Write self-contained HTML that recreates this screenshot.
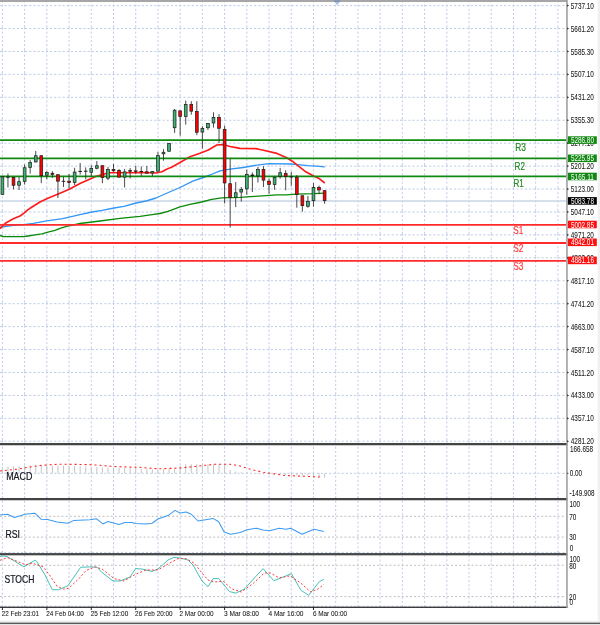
<!DOCTYPE html><html><head><meta charset="utf-8"><style>html,body{margin:0;padding:0;background:#fff;overflow:hidden}svg{display:block}</style></head><body>
<svg width="600" height="625" viewBox="0 0 600 625">
<rect x="0" y="0" width="600" height="625" fill="#fff"/>
<rect x="597.6" y="0" width="2.4" height="625" fill="#f0f0f0"/>
<rect x="0" y="620.7" width="600" height="1.9" fill="#eeeeee"/>
<rect x="0" y="624" width="600" height="1" fill="#e4e4e4"/>
<rect x="0" y="622.6" width="600" height="1.4" fill="#5a5a5a"/>
<line x1="2.40" y1="0.450" x2="2.40" y2="4.600" stroke="#bdcbe7" stroke-width="1" stroke-dasharray="2 2.15"/>
<line x1="2.40" y1="4.600" x2="2.40" y2="27.530" stroke="#bdcbe7" stroke-width="1" stroke-dasharray="2 2.15"/>
<line x1="2.40" y1="27.530" x2="2.40" y2="50.460" stroke="#bdcbe7" stroke-width="1" stroke-dasharray="2 2.15"/>
<line x1="2.40" y1="50.460" x2="2.40" y2="73.390" stroke="#bdcbe7" stroke-width="1" stroke-dasharray="2 2.15"/>
<line x1="2.40" y1="73.390" x2="2.40" y2="96.320" stroke="#bdcbe7" stroke-width="1" stroke-dasharray="2 2.15"/>
<line x1="2.40" y1="96.320" x2="2.40" y2="119.250" stroke="#bdcbe7" stroke-width="1" stroke-dasharray="2 2.15"/>
<line x1="2.40" y1="119.250" x2="2.40" y2="142.180" stroke="#bdcbe7" stroke-width="1" stroke-dasharray="2 2.15"/>
<line x1="2.40" y1="142.180" x2="2.40" y2="165.110" stroke="#bdcbe7" stroke-width="1" stroke-dasharray="2 2.15"/>
<line x1="2.40" y1="165.110" x2="2.40" y2="188.040" stroke="#bdcbe7" stroke-width="1" stroke-dasharray="2 2.15"/>
<line x1="2.40" y1="188.040" x2="2.40" y2="210.970" stroke="#bdcbe7" stroke-width="1" stroke-dasharray="2 2.15"/>
<line x1="2.40" y1="210.970" x2="2.40" y2="233.900" stroke="#bdcbe7" stroke-width="1" stroke-dasharray="2 2.15"/>
<line x1="2.40" y1="233.900" x2="2.40" y2="256.830" stroke="#bdcbe7" stroke-width="1" stroke-dasharray="2 2.15"/>
<line x1="2.40" y1="256.830" x2="2.40" y2="279.760" stroke="#bdcbe7" stroke-width="1" stroke-dasharray="2 2.15"/>
<line x1="2.40" y1="279.760" x2="2.40" y2="302.690" stroke="#bdcbe7" stroke-width="1" stroke-dasharray="2 2.15"/>
<line x1="2.40" y1="302.690" x2="2.40" y2="325.620" stroke="#bdcbe7" stroke-width="1" stroke-dasharray="2 2.15"/>
<line x1="2.40" y1="325.620" x2="2.40" y2="348.550" stroke="#bdcbe7" stroke-width="1" stroke-dasharray="2 2.15"/>
<line x1="2.40" y1="348.550" x2="2.40" y2="371.480" stroke="#bdcbe7" stroke-width="1" stroke-dasharray="2 2.15"/>
<line x1="2.40" y1="371.480" x2="2.40" y2="394.410" stroke="#bdcbe7" stroke-width="1" stroke-dasharray="2 2.15"/>
<line x1="2.40" y1="394.410" x2="2.40" y2="417.340" stroke="#bdcbe7" stroke-width="1" stroke-dasharray="2 2.15"/>
<line x1="2.40" y1="417.340" x2="2.40" y2="440.270" stroke="#bdcbe7" stroke-width="1" stroke-dasharray="2 2.15"/>
<line x1="2.40" y1="440.270" x2="2.40" y2="443.000" stroke="#bdcbe7" stroke-width="1" stroke-dasharray="2 2.15"/>
<line x1="2.40" y1="442.550" x2="2.40" y2="498" stroke="#bdcbe7" stroke-width="1" stroke-dasharray="2 2.15"/>
<line x1="2.40" y1="496.600" x2="2.40" y2="553" stroke="#bdcbe7" stroke-width="1" stroke-dasharray="2 2.15"/>
<line x1="2.40" y1="551.050" x2="2.40" y2="607" stroke="#bdcbe7" stroke-width="1" stroke-dasharray="2 2.15"/>
<line x1="24.62" y1="0.450" x2="24.62" y2="4.600" stroke="#bdcbe7" stroke-width="1" stroke-dasharray="2 2.15"/>
<line x1="24.62" y1="4.600" x2="24.62" y2="27.530" stroke="#bdcbe7" stroke-width="1" stroke-dasharray="2 2.15"/>
<line x1="24.62" y1="27.530" x2="24.62" y2="50.460" stroke="#bdcbe7" stroke-width="1" stroke-dasharray="2 2.15"/>
<line x1="24.62" y1="50.460" x2="24.62" y2="73.390" stroke="#bdcbe7" stroke-width="1" stroke-dasharray="2 2.15"/>
<line x1="24.62" y1="73.390" x2="24.62" y2="96.320" stroke="#bdcbe7" stroke-width="1" stroke-dasharray="2 2.15"/>
<line x1="24.62" y1="96.320" x2="24.62" y2="119.250" stroke="#bdcbe7" stroke-width="1" stroke-dasharray="2 2.15"/>
<line x1="24.62" y1="119.250" x2="24.62" y2="142.180" stroke="#bdcbe7" stroke-width="1" stroke-dasharray="2 2.15"/>
<line x1="24.62" y1="142.180" x2="24.62" y2="165.110" stroke="#bdcbe7" stroke-width="1" stroke-dasharray="2 2.15"/>
<line x1="24.62" y1="165.110" x2="24.62" y2="188.040" stroke="#bdcbe7" stroke-width="1" stroke-dasharray="2 2.15"/>
<line x1="24.62" y1="188.040" x2="24.62" y2="210.970" stroke="#bdcbe7" stroke-width="1" stroke-dasharray="2 2.15"/>
<line x1="24.62" y1="210.970" x2="24.62" y2="233.900" stroke="#bdcbe7" stroke-width="1" stroke-dasharray="2 2.15"/>
<line x1="24.62" y1="233.900" x2="24.62" y2="256.830" stroke="#bdcbe7" stroke-width="1" stroke-dasharray="2 2.15"/>
<line x1="24.62" y1="256.830" x2="24.62" y2="279.760" stroke="#bdcbe7" stroke-width="1" stroke-dasharray="2 2.15"/>
<line x1="24.62" y1="279.760" x2="24.62" y2="302.690" stroke="#bdcbe7" stroke-width="1" stroke-dasharray="2 2.15"/>
<line x1="24.62" y1="302.690" x2="24.62" y2="325.620" stroke="#bdcbe7" stroke-width="1" stroke-dasharray="2 2.15"/>
<line x1="24.62" y1="325.620" x2="24.62" y2="348.550" stroke="#bdcbe7" stroke-width="1" stroke-dasharray="2 2.15"/>
<line x1="24.62" y1="348.550" x2="24.62" y2="371.480" stroke="#bdcbe7" stroke-width="1" stroke-dasharray="2 2.15"/>
<line x1="24.62" y1="371.480" x2="24.62" y2="394.410" stroke="#bdcbe7" stroke-width="1" stroke-dasharray="2 2.15"/>
<line x1="24.62" y1="394.410" x2="24.62" y2="417.340" stroke="#bdcbe7" stroke-width="1" stroke-dasharray="2 2.15"/>
<line x1="24.62" y1="417.340" x2="24.62" y2="440.270" stroke="#bdcbe7" stroke-width="1" stroke-dasharray="2 2.15"/>
<line x1="24.62" y1="440.270" x2="24.62" y2="443.000" stroke="#bdcbe7" stroke-width="1" stroke-dasharray="2 2.15"/>
<line x1="24.62" y1="442.550" x2="24.62" y2="498" stroke="#bdcbe7" stroke-width="1" stroke-dasharray="2 2.15"/>
<line x1="24.62" y1="496.600" x2="24.62" y2="553" stroke="#bdcbe7" stroke-width="1" stroke-dasharray="2 2.15"/>
<line x1="24.62" y1="551.050" x2="24.62" y2="607" stroke="#bdcbe7" stroke-width="1" stroke-dasharray="2 2.15"/>
<line x1="46.84" y1="0.450" x2="46.84" y2="4.600" stroke="#bdcbe7" stroke-width="1" stroke-dasharray="2 2.15"/>
<line x1="46.84" y1="4.600" x2="46.84" y2="27.530" stroke="#bdcbe7" stroke-width="1" stroke-dasharray="2 2.15"/>
<line x1="46.84" y1="27.530" x2="46.84" y2="50.460" stroke="#bdcbe7" stroke-width="1" stroke-dasharray="2 2.15"/>
<line x1="46.84" y1="50.460" x2="46.84" y2="73.390" stroke="#bdcbe7" stroke-width="1" stroke-dasharray="2 2.15"/>
<line x1="46.84" y1="73.390" x2="46.84" y2="96.320" stroke="#bdcbe7" stroke-width="1" stroke-dasharray="2 2.15"/>
<line x1="46.84" y1="96.320" x2="46.84" y2="119.250" stroke="#bdcbe7" stroke-width="1" stroke-dasharray="2 2.15"/>
<line x1="46.84" y1="119.250" x2="46.84" y2="142.180" stroke="#bdcbe7" stroke-width="1" stroke-dasharray="2 2.15"/>
<line x1="46.84" y1="142.180" x2="46.84" y2="165.110" stroke="#bdcbe7" stroke-width="1" stroke-dasharray="2 2.15"/>
<line x1="46.84" y1="165.110" x2="46.84" y2="188.040" stroke="#bdcbe7" stroke-width="1" stroke-dasharray="2 2.15"/>
<line x1="46.84" y1="188.040" x2="46.84" y2="210.970" stroke="#bdcbe7" stroke-width="1" stroke-dasharray="2 2.15"/>
<line x1="46.84" y1="210.970" x2="46.84" y2="233.900" stroke="#bdcbe7" stroke-width="1" stroke-dasharray="2 2.15"/>
<line x1="46.84" y1="233.900" x2="46.84" y2="256.830" stroke="#bdcbe7" stroke-width="1" stroke-dasharray="2 2.15"/>
<line x1="46.84" y1="256.830" x2="46.84" y2="279.760" stroke="#bdcbe7" stroke-width="1" stroke-dasharray="2 2.15"/>
<line x1="46.84" y1="279.760" x2="46.84" y2="302.690" stroke="#bdcbe7" stroke-width="1" stroke-dasharray="2 2.15"/>
<line x1="46.84" y1="302.690" x2="46.84" y2="325.620" stroke="#bdcbe7" stroke-width="1" stroke-dasharray="2 2.15"/>
<line x1="46.84" y1="325.620" x2="46.84" y2="348.550" stroke="#bdcbe7" stroke-width="1" stroke-dasharray="2 2.15"/>
<line x1="46.84" y1="348.550" x2="46.84" y2="371.480" stroke="#bdcbe7" stroke-width="1" stroke-dasharray="2 2.15"/>
<line x1="46.84" y1="371.480" x2="46.84" y2="394.410" stroke="#bdcbe7" stroke-width="1" stroke-dasharray="2 2.15"/>
<line x1="46.84" y1="394.410" x2="46.84" y2="417.340" stroke="#bdcbe7" stroke-width="1" stroke-dasharray="2 2.15"/>
<line x1="46.84" y1="417.340" x2="46.84" y2="440.270" stroke="#bdcbe7" stroke-width="1" stroke-dasharray="2 2.15"/>
<line x1="46.84" y1="440.270" x2="46.84" y2="443.000" stroke="#bdcbe7" stroke-width="1" stroke-dasharray="2 2.15"/>
<line x1="46.84" y1="442.550" x2="46.84" y2="498" stroke="#bdcbe7" stroke-width="1" stroke-dasharray="2 2.15"/>
<line x1="46.84" y1="496.600" x2="46.84" y2="553" stroke="#bdcbe7" stroke-width="1" stroke-dasharray="2 2.15"/>
<line x1="46.84" y1="551.050" x2="46.84" y2="607" stroke="#bdcbe7" stroke-width="1" stroke-dasharray="2 2.15"/>
<line x1="69.06" y1="0.450" x2="69.06" y2="4.600" stroke="#bdcbe7" stroke-width="1" stroke-dasharray="2 2.15"/>
<line x1="69.06" y1="4.600" x2="69.06" y2="27.530" stroke="#bdcbe7" stroke-width="1" stroke-dasharray="2 2.15"/>
<line x1="69.06" y1="27.530" x2="69.06" y2="50.460" stroke="#bdcbe7" stroke-width="1" stroke-dasharray="2 2.15"/>
<line x1="69.06" y1="50.460" x2="69.06" y2="73.390" stroke="#bdcbe7" stroke-width="1" stroke-dasharray="2 2.15"/>
<line x1="69.06" y1="73.390" x2="69.06" y2="96.320" stroke="#bdcbe7" stroke-width="1" stroke-dasharray="2 2.15"/>
<line x1="69.06" y1="96.320" x2="69.06" y2="119.250" stroke="#bdcbe7" stroke-width="1" stroke-dasharray="2 2.15"/>
<line x1="69.06" y1="119.250" x2="69.06" y2="142.180" stroke="#bdcbe7" stroke-width="1" stroke-dasharray="2 2.15"/>
<line x1="69.06" y1="142.180" x2="69.06" y2="165.110" stroke="#bdcbe7" stroke-width="1" stroke-dasharray="2 2.15"/>
<line x1="69.06" y1="165.110" x2="69.06" y2="188.040" stroke="#bdcbe7" stroke-width="1" stroke-dasharray="2 2.15"/>
<line x1="69.06" y1="188.040" x2="69.06" y2="210.970" stroke="#bdcbe7" stroke-width="1" stroke-dasharray="2 2.15"/>
<line x1="69.06" y1="210.970" x2="69.06" y2="233.900" stroke="#bdcbe7" stroke-width="1" stroke-dasharray="2 2.15"/>
<line x1="69.06" y1="233.900" x2="69.06" y2="256.830" stroke="#bdcbe7" stroke-width="1" stroke-dasharray="2 2.15"/>
<line x1="69.06" y1="256.830" x2="69.06" y2="279.760" stroke="#bdcbe7" stroke-width="1" stroke-dasharray="2 2.15"/>
<line x1="69.06" y1="279.760" x2="69.06" y2="302.690" stroke="#bdcbe7" stroke-width="1" stroke-dasharray="2 2.15"/>
<line x1="69.06" y1="302.690" x2="69.06" y2="325.620" stroke="#bdcbe7" stroke-width="1" stroke-dasharray="2 2.15"/>
<line x1="69.06" y1="325.620" x2="69.06" y2="348.550" stroke="#bdcbe7" stroke-width="1" stroke-dasharray="2 2.15"/>
<line x1="69.06" y1="348.550" x2="69.06" y2="371.480" stroke="#bdcbe7" stroke-width="1" stroke-dasharray="2 2.15"/>
<line x1="69.06" y1="371.480" x2="69.06" y2="394.410" stroke="#bdcbe7" stroke-width="1" stroke-dasharray="2 2.15"/>
<line x1="69.06" y1="394.410" x2="69.06" y2="417.340" stroke="#bdcbe7" stroke-width="1" stroke-dasharray="2 2.15"/>
<line x1="69.06" y1="417.340" x2="69.06" y2="440.270" stroke="#bdcbe7" stroke-width="1" stroke-dasharray="2 2.15"/>
<line x1="69.06" y1="440.270" x2="69.06" y2="443.000" stroke="#bdcbe7" stroke-width="1" stroke-dasharray="2 2.15"/>
<line x1="69.06" y1="442.550" x2="69.06" y2="498" stroke="#bdcbe7" stroke-width="1" stroke-dasharray="2 2.15"/>
<line x1="69.06" y1="496.600" x2="69.06" y2="553" stroke="#bdcbe7" stroke-width="1" stroke-dasharray="2 2.15"/>
<line x1="69.06" y1="551.050" x2="69.06" y2="607" stroke="#bdcbe7" stroke-width="1" stroke-dasharray="2 2.15"/>
<line x1="91.28" y1="0.450" x2="91.28" y2="4.600" stroke="#bdcbe7" stroke-width="1" stroke-dasharray="2 2.15"/>
<line x1="91.28" y1="4.600" x2="91.28" y2="27.530" stroke="#bdcbe7" stroke-width="1" stroke-dasharray="2 2.15"/>
<line x1="91.28" y1="27.530" x2="91.28" y2="50.460" stroke="#bdcbe7" stroke-width="1" stroke-dasharray="2 2.15"/>
<line x1="91.28" y1="50.460" x2="91.28" y2="73.390" stroke="#bdcbe7" stroke-width="1" stroke-dasharray="2 2.15"/>
<line x1="91.28" y1="73.390" x2="91.28" y2="96.320" stroke="#bdcbe7" stroke-width="1" stroke-dasharray="2 2.15"/>
<line x1="91.28" y1="96.320" x2="91.28" y2="119.250" stroke="#bdcbe7" stroke-width="1" stroke-dasharray="2 2.15"/>
<line x1="91.28" y1="119.250" x2="91.28" y2="142.180" stroke="#bdcbe7" stroke-width="1" stroke-dasharray="2 2.15"/>
<line x1="91.28" y1="142.180" x2="91.28" y2="165.110" stroke="#bdcbe7" stroke-width="1" stroke-dasharray="2 2.15"/>
<line x1="91.28" y1="165.110" x2="91.28" y2="188.040" stroke="#bdcbe7" stroke-width="1" stroke-dasharray="2 2.15"/>
<line x1="91.28" y1="188.040" x2="91.28" y2="210.970" stroke="#bdcbe7" stroke-width="1" stroke-dasharray="2 2.15"/>
<line x1="91.28" y1="210.970" x2="91.28" y2="233.900" stroke="#bdcbe7" stroke-width="1" stroke-dasharray="2 2.15"/>
<line x1="91.28" y1="233.900" x2="91.28" y2="256.830" stroke="#bdcbe7" stroke-width="1" stroke-dasharray="2 2.15"/>
<line x1="91.28" y1="256.830" x2="91.28" y2="279.760" stroke="#bdcbe7" stroke-width="1" stroke-dasharray="2 2.15"/>
<line x1="91.28" y1="279.760" x2="91.28" y2="302.690" stroke="#bdcbe7" stroke-width="1" stroke-dasharray="2 2.15"/>
<line x1="91.28" y1="302.690" x2="91.28" y2="325.620" stroke="#bdcbe7" stroke-width="1" stroke-dasharray="2 2.15"/>
<line x1="91.28" y1="325.620" x2="91.28" y2="348.550" stroke="#bdcbe7" stroke-width="1" stroke-dasharray="2 2.15"/>
<line x1="91.28" y1="348.550" x2="91.28" y2="371.480" stroke="#bdcbe7" stroke-width="1" stroke-dasharray="2 2.15"/>
<line x1="91.28" y1="371.480" x2="91.28" y2="394.410" stroke="#bdcbe7" stroke-width="1" stroke-dasharray="2 2.15"/>
<line x1="91.28" y1="394.410" x2="91.28" y2="417.340" stroke="#bdcbe7" stroke-width="1" stroke-dasharray="2 2.15"/>
<line x1="91.28" y1="417.340" x2="91.28" y2="440.270" stroke="#bdcbe7" stroke-width="1" stroke-dasharray="2 2.15"/>
<line x1="91.28" y1="440.270" x2="91.28" y2="443.000" stroke="#bdcbe7" stroke-width="1" stroke-dasharray="2 2.15"/>
<line x1="91.28" y1="442.550" x2="91.28" y2="498" stroke="#bdcbe7" stroke-width="1" stroke-dasharray="2 2.15"/>
<line x1="91.28" y1="496.600" x2="91.28" y2="553" stroke="#bdcbe7" stroke-width="1" stroke-dasharray="2 2.15"/>
<line x1="91.28" y1="551.050" x2="91.28" y2="607" stroke="#bdcbe7" stroke-width="1" stroke-dasharray="2 2.15"/>
<line x1="113.50" y1="0.450" x2="113.50" y2="4.600" stroke="#bdcbe7" stroke-width="1" stroke-dasharray="2 2.15"/>
<line x1="113.50" y1="4.600" x2="113.50" y2="27.530" stroke="#bdcbe7" stroke-width="1" stroke-dasharray="2 2.15"/>
<line x1="113.50" y1="27.530" x2="113.50" y2="50.460" stroke="#bdcbe7" stroke-width="1" stroke-dasharray="2 2.15"/>
<line x1="113.50" y1="50.460" x2="113.50" y2="73.390" stroke="#bdcbe7" stroke-width="1" stroke-dasharray="2 2.15"/>
<line x1="113.50" y1="73.390" x2="113.50" y2="96.320" stroke="#bdcbe7" stroke-width="1" stroke-dasharray="2 2.15"/>
<line x1="113.50" y1="96.320" x2="113.50" y2="119.250" stroke="#bdcbe7" stroke-width="1" stroke-dasharray="2 2.15"/>
<line x1="113.50" y1="119.250" x2="113.50" y2="142.180" stroke="#bdcbe7" stroke-width="1" stroke-dasharray="2 2.15"/>
<line x1="113.50" y1="142.180" x2="113.50" y2="165.110" stroke="#bdcbe7" stroke-width="1" stroke-dasharray="2 2.15"/>
<line x1="113.50" y1="165.110" x2="113.50" y2="188.040" stroke="#bdcbe7" stroke-width="1" stroke-dasharray="2 2.15"/>
<line x1="113.50" y1="188.040" x2="113.50" y2="210.970" stroke="#bdcbe7" stroke-width="1" stroke-dasharray="2 2.15"/>
<line x1="113.50" y1="210.970" x2="113.50" y2="233.900" stroke="#bdcbe7" stroke-width="1" stroke-dasharray="2 2.15"/>
<line x1="113.50" y1="233.900" x2="113.50" y2="256.830" stroke="#bdcbe7" stroke-width="1" stroke-dasharray="2 2.15"/>
<line x1="113.50" y1="256.830" x2="113.50" y2="279.760" stroke="#bdcbe7" stroke-width="1" stroke-dasharray="2 2.15"/>
<line x1="113.50" y1="279.760" x2="113.50" y2="302.690" stroke="#bdcbe7" stroke-width="1" stroke-dasharray="2 2.15"/>
<line x1="113.50" y1="302.690" x2="113.50" y2="325.620" stroke="#bdcbe7" stroke-width="1" stroke-dasharray="2 2.15"/>
<line x1="113.50" y1="325.620" x2="113.50" y2="348.550" stroke="#bdcbe7" stroke-width="1" stroke-dasharray="2 2.15"/>
<line x1="113.50" y1="348.550" x2="113.50" y2="371.480" stroke="#bdcbe7" stroke-width="1" stroke-dasharray="2 2.15"/>
<line x1="113.50" y1="371.480" x2="113.50" y2="394.410" stroke="#bdcbe7" stroke-width="1" stroke-dasharray="2 2.15"/>
<line x1="113.50" y1="394.410" x2="113.50" y2="417.340" stroke="#bdcbe7" stroke-width="1" stroke-dasharray="2 2.15"/>
<line x1="113.50" y1="417.340" x2="113.50" y2="440.270" stroke="#bdcbe7" stroke-width="1" stroke-dasharray="2 2.15"/>
<line x1="113.50" y1="440.270" x2="113.50" y2="443.000" stroke="#bdcbe7" stroke-width="1" stroke-dasharray="2 2.15"/>
<line x1="113.50" y1="442.550" x2="113.50" y2="498" stroke="#bdcbe7" stroke-width="1" stroke-dasharray="2 2.15"/>
<line x1="113.50" y1="496.600" x2="113.50" y2="553" stroke="#bdcbe7" stroke-width="1" stroke-dasharray="2 2.15"/>
<line x1="113.50" y1="551.050" x2="113.50" y2="607" stroke="#bdcbe7" stroke-width="1" stroke-dasharray="2 2.15"/>
<line x1="135.72" y1="0.450" x2="135.72" y2="4.600" stroke="#bdcbe7" stroke-width="1" stroke-dasharray="2 2.15"/>
<line x1="135.72" y1="4.600" x2="135.72" y2="27.530" stroke="#bdcbe7" stroke-width="1" stroke-dasharray="2 2.15"/>
<line x1="135.72" y1="27.530" x2="135.72" y2="50.460" stroke="#bdcbe7" stroke-width="1" stroke-dasharray="2 2.15"/>
<line x1="135.72" y1="50.460" x2="135.72" y2="73.390" stroke="#bdcbe7" stroke-width="1" stroke-dasharray="2 2.15"/>
<line x1="135.72" y1="73.390" x2="135.72" y2="96.320" stroke="#bdcbe7" stroke-width="1" stroke-dasharray="2 2.15"/>
<line x1="135.72" y1="96.320" x2="135.72" y2="119.250" stroke="#bdcbe7" stroke-width="1" stroke-dasharray="2 2.15"/>
<line x1="135.72" y1="119.250" x2="135.72" y2="142.180" stroke="#bdcbe7" stroke-width="1" stroke-dasharray="2 2.15"/>
<line x1="135.72" y1="142.180" x2="135.72" y2="165.110" stroke="#bdcbe7" stroke-width="1" stroke-dasharray="2 2.15"/>
<line x1="135.72" y1="165.110" x2="135.72" y2="188.040" stroke="#bdcbe7" stroke-width="1" stroke-dasharray="2 2.15"/>
<line x1="135.72" y1="188.040" x2="135.72" y2="210.970" stroke="#bdcbe7" stroke-width="1" stroke-dasharray="2 2.15"/>
<line x1="135.72" y1="210.970" x2="135.72" y2="233.900" stroke="#bdcbe7" stroke-width="1" stroke-dasharray="2 2.15"/>
<line x1="135.72" y1="233.900" x2="135.72" y2="256.830" stroke="#bdcbe7" stroke-width="1" stroke-dasharray="2 2.15"/>
<line x1="135.72" y1="256.830" x2="135.72" y2="279.760" stroke="#bdcbe7" stroke-width="1" stroke-dasharray="2 2.15"/>
<line x1="135.72" y1="279.760" x2="135.72" y2="302.690" stroke="#bdcbe7" stroke-width="1" stroke-dasharray="2 2.15"/>
<line x1="135.72" y1="302.690" x2="135.72" y2="325.620" stroke="#bdcbe7" stroke-width="1" stroke-dasharray="2 2.15"/>
<line x1="135.72" y1="325.620" x2="135.72" y2="348.550" stroke="#bdcbe7" stroke-width="1" stroke-dasharray="2 2.15"/>
<line x1="135.72" y1="348.550" x2="135.72" y2="371.480" stroke="#bdcbe7" stroke-width="1" stroke-dasharray="2 2.15"/>
<line x1="135.72" y1="371.480" x2="135.72" y2="394.410" stroke="#bdcbe7" stroke-width="1" stroke-dasharray="2 2.15"/>
<line x1="135.72" y1="394.410" x2="135.72" y2="417.340" stroke="#bdcbe7" stroke-width="1" stroke-dasharray="2 2.15"/>
<line x1="135.72" y1="417.340" x2="135.72" y2="440.270" stroke="#bdcbe7" stroke-width="1" stroke-dasharray="2 2.15"/>
<line x1="135.72" y1="440.270" x2="135.72" y2="443.000" stroke="#bdcbe7" stroke-width="1" stroke-dasharray="2 2.15"/>
<line x1="135.72" y1="442.550" x2="135.72" y2="498" stroke="#bdcbe7" stroke-width="1" stroke-dasharray="2 2.15"/>
<line x1="135.72" y1="496.600" x2="135.72" y2="553" stroke="#bdcbe7" stroke-width="1" stroke-dasharray="2 2.15"/>
<line x1="135.72" y1="551.050" x2="135.72" y2="607" stroke="#bdcbe7" stroke-width="1" stroke-dasharray="2 2.15"/>
<line x1="157.94" y1="0.450" x2="157.94" y2="4.600" stroke="#bdcbe7" stroke-width="1" stroke-dasharray="2 2.15"/>
<line x1="157.94" y1="4.600" x2="157.94" y2="27.530" stroke="#bdcbe7" stroke-width="1" stroke-dasharray="2 2.15"/>
<line x1="157.94" y1="27.530" x2="157.94" y2="50.460" stroke="#bdcbe7" stroke-width="1" stroke-dasharray="2 2.15"/>
<line x1="157.94" y1="50.460" x2="157.94" y2="73.390" stroke="#bdcbe7" stroke-width="1" stroke-dasharray="2 2.15"/>
<line x1="157.94" y1="73.390" x2="157.94" y2="96.320" stroke="#bdcbe7" stroke-width="1" stroke-dasharray="2 2.15"/>
<line x1="157.94" y1="96.320" x2="157.94" y2="119.250" stroke="#bdcbe7" stroke-width="1" stroke-dasharray="2 2.15"/>
<line x1="157.94" y1="119.250" x2="157.94" y2="142.180" stroke="#bdcbe7" stroke-width="1" stroke-dasharray="2 2.15"/>
<line x1="157.94" y1="142.180" x2="157.94" y2="165.110" stroke="#bdcbe7" stroke-width="1" stroke-dasharray="2 2.15"/>
<line x1="157.94" y1="165.110" x2="157.94" y2="188.040" stroke="#bdcbe7" stroke-width="1" stroke-dasharray="2 2.15"/>
<line x1="157.94" y1="188.040" x2="157.94" y2="210.970" stroke="#bdcbe7" stroke-width="1" stroke-dasharray="2 2.15"/>
<line x1="157.94" y1="210.970" x2="157.94" y2="233.900" stroke="#bdcbe7" stroke-width="1" stroke-dasharray="2 2.15"/>
<line x1="157.94" y1="233.900" x2="157.94" y2="256.830" stroke="#bdcbe7" stroke-width="1" stroke-dasharray="2 2.15"/>
<line x1="157.94" y1="256.830" x2="157.94" y2="279.760" stroke="#bdcbe7" stroke-width="1" stroke-dasharray="2 2.15"/>
<line x1="157.94" y1="279.760" x2="157.94" y2="302.690" stroke="#bdcbe7" stroke-width="1" stroke-dasharray="2 2.15"/>
<line x1="157.94" y1="302.690" x2="157.94" y2="325.620" stroke="#bdcbe7" stroke-width="1" stroke-dasharray="2 2.15"/>
<line x1="157.94" y1="325.620" x2="157.94" y2="348.550" stroke="#bdcbe7" stroke-width="1" stroke-dasharray="2 2.15"/>
<line x1="157.94" y1="348.550" x2="157.94" y2="371.480" stroke="#bdcbe7" stroke-width="1" stroke-dasharray="2 2.15"/>
<line x1="157.94" y1="371.480" x2="157.94" y2="394.410" stroke="#bdcbe7" stroke-width="1" stroke-dasharray="2 2.15"/>
<line x1="157.94" y1="394.410" x2="157.94" y2="417.340" stroke="#bdcbe7" stroke-width="1" stroke-dasharray="2 2.15"/>
<line x1="157.94" y1="417.340" x2="157.94" y2="440.270" stroke="#bdcbe7" stroke-width="1" stroke-dasharray="2 2.15"/>
<line x1="157.94" y1="440.270" x2="157.94" y2="443.000" stroke="#bdcbe7" stroke-width="1" stroke-dasharray="2 2.15"/>
<line x1="157.94" y1="442.550" x2="157.94" y2="498" stroke="#bdcbe7" stroke-width="1" stroke-dasharray="2 2.15"/>
<line x1="157.94" y1="496.600" x2="157.94" y2="553" stroke="#bdcbe7" stroke-width="1" stroke-dasharray="2 2.15"/>
<line x1="157.94" y1="551.050" x2="157.94" y2="607" stroke="#bdcbe7" stroke-width="1" stroke-dasharray="2 2.15"/>
<line x1="180.16" y1="0.450" x2="180.16" y2="4.600" stroke="#bdcbe7" stroke-width="1" stroke-dasharray="2 2.15"/>
<line x1="180.16" y1="4.600" x2="180.16" y2="27.530" stroke="#bdcbe7" stroke-width="1" stroke-dasharray="2 2.15"/>
<line x1="180.16" y1="27.530" x2="180.16" y2="50.460" stroke="#bdcbe7" stroke-width="1" stroke-dasharray="2 2.15"/>
<line x1="180.16" y1="50.460" x2="180.16" y2="73.390" stroke="#bdcbe7" stroke-width="1" stroke-dasharray="2 2.15"/>
<line x1="180.16" y1="73.390" x2="180.16" y2="96.320" stroke="#bdcbe7" stroke-width="1" stroke-dasharray="2 2.15"/>
<line x1="180.16" y1="96.320" x2="180.16" y2="119.250" stroke="#bdcbe7" stroke-width="1" stroke-dasharray="2 2.15"/>
<line x1="180.16" y1="119.250" x2="180.16" y2="142.180" stroke="#bdcbe7" stroke-width="1" stroke-dasharray="2 2.15"/>
<line x1="180.16" y1="142.180" x2="180.16" y2="165.110" stroke="#bdcbe7" stroke-width="1" stroke-dasharray="2 2.15"/>
<line x1="180.16" y1="165.110" x2="180.16" y2="188.040" stroke="#bdcbe7" stroke-width="1" stroke-dasharray="2 2.15"/>
<line x1="180.16" y1="188.040" x2="180.16" y2="210.970" stroke="#bdcbe7" stroke-width="1" stroke-dasharray="2 2.15"/>
<line x1="180.16" y1="210.970" x2="180.16" y2="233.900" stroke="#bdcbe7" stroke-width="1" stroke-dasharray="2 2.15"/>
<line x1="180.16" y1="233.900" x2="180.16" y2="256.830" stroke="#bdcbe7" stroke-width="1" stroke-dasharray="2 2.15"/>
<line x1="180.16" y1="256.830" x2="180.16" y2="279.760" stroke="#bdcbe7" stroke-width="1" stroke-dasharray="2 2.15"/>
<line x1="180.16" y1="279.760" x2="180.16" y2="302.690" stroke="#bdcbe7" stroke-width="1" stroke-dasharray="2 2.15"/>
<line x1="180.16" y1="302.690" x2="180.16" y2="325.620" stroke="#bdcbe7" stroke-width="1" stroke-dasharray="2 2.15"/>
<line x1="180.16" y1="325.620" x2="180.16" y2="348.550" stroke="#bdcbe7" stroke-width="1" stroke-dasharray="2 2.15"/>
<line x1="180.16" y1="348.550" x2="180.16" y2="371.480" stroke="#bdcbe7" stroke-width="1" stroke-dasharray="2 2.15"/>
<line x1="180.16" y1="371.480" x2="180.16" y2="394.410" stroke="#bdcbe7" stroke-width="1" stroke-dasharray="2 2.15"/>
<line x1="180.16" y1="394.410" x2="180.16" y2="417.340" stroke="#bdcbe7" stroke-width="1" stroke-dasharray="2 2.15"/>
<line x1="180.16" y1="417.340" x2="180.16" y2="440.270" stroke="#bdcbe7" stroke-width="1" stroke-dasharray="2 2.15"/>
<line x1="180.16" y1="440.270" x2="180.16" y2="443.000" stroke="#bdcbe7" stroke-width="1" stroke-dasharray="2 2.15"/>
<line x1="180.16" y1="442.550" x2="180.16" y2="498" stroke="#bdcbe7" stroke-width="1" stroke-dasharray="2 2.15"/>
<line x1="180.16" y1="496.600" x2="180.16" y2="553" stroke="#bdcbe7" stroke-width="1" stroke-dasharray="2 2.15"/>
<line x1="180.16" y1="551.050" x2="180.16" y2="607" stroke="#bdcbe7" stroke-width="1" stroke-dasharray="2 2.15"/>
<line x1="202.38" y1="0.450" x2="202.38" y2="4.600" stroke="#bdcbe7" stroke-width="1" stroke-dasharray="2 2.15"/>
<line x1="202.38" y1="4.600" x2="202.38" y2="27.530" stroke="#bdcbe7" stroke-width="1" stroke-dasharray="2 2.15"/>
<line x1="202.38" y1="27.530" x2="202.38" y2="50.460" stroke="#bdcbe7" stroke-width="1" stroke-dasharray="2 2.15"/>
<line x1="202.38" y1="50.460" x2="202.38" y2="73.390" stroke="#bdcbe7" stroke-width="1" stroke-dasharray="2 2.15"/>
<line x1="202.38" y1="73.390" x2="202.38" y2="96.320" stroke="#bdcbe7" stroke-width="1" stroke-dasharray="2 2.15"/>
<line x1="202.38" y1="96.320" x2="202.38" y2="119.250" stroke="#bdcbe7" stroke-width="1" stroke-dasharray="2 2.15"/>
<line x1="202.38" y1="119.250" x2="202.38" y2="142.180" stroke="#bdcbe7" stroke-width="1" stroke-dasharray="2 2.15"/>
<line x1="202.38" y1="142.180" x2="202.38" y2="165.110" stroke="#bdcbe7" stroke-width="1" stroke-dasharray="2 2.15"/>
<line x1="202.38" y1="165.110" x2="202.38" y2="188.040" stroke="#bdcbe7" stroke-width="1" stroke-dasharray="2 2.15"/>
<line x1="202.38" y1="188.040" x2="202.38" y2="210.970" stroke="#bdcbe7" stroke-width="1" stroke-dasharray="2 2.15"/>
<line x1="202.38" y1="210.970" x2="202.38" y2="233.900" stroke="#bdcbe7" stroke-width="1" stroke-dasharray="2 2.15"/>
<line x1="202.38" y1="233.900" x2="202.38" y2="256.830" stroke="#bdcbe7" stroke-width="1" stroke-dasharray="2 2.15"/>
<line x1="202.38" y1="256.830" x2="202.38" y2="279.760" stroke="#bdcbe7" stroke-width="1" stroke-dasharray="2 2.15"/>
<line x1="202.38" y1="279.760" x2="202.38" y2="302.690" stroke="#bdcbe7" stroke-width="1" stroke-dasharray="2 2.15"/>
<line x1="202.38" y1="302.690" x2="202.38" y2="325.620" stroke="#bdcbe7" stroke-width="1" stroke-dasharray="2 2.15"/>
<line x1="202.38" y1="325.620" x2="202.38" y2="348.550" stroke="#bdcbe7" stroke-width="1" stroke-dasharray="2 2.15"/>
<line x1="202.38" y1="348.550" x2="202.38" y2="371.480" stroke="#bdcbe7" stroke-width="1" stroke-dasharray="2 2.15"/>
<line x1="202.38" y1="371.480" x2="202.38" y2="394.410" stroke="#bdcbe7" stroke-width="1" stroke-dasharray="2 2.15"/>
<line x1="202.38" y1="394.410" x2="202.38" y2="417.340" stroke="#bdcbe7" stroke-width="1" stroke-dasharray="2 2.15"/>
<line x1="202.38" y1="417.340" x2="202.38" y2="440.270" stroke="#bdcbe7" stroke-width="1" stroke-dasharray="2 2.15"/>
<line x1="202.38" y1="440.270" x2="202.38" y2="443.000" stroke="#bdcbe7" stroke-width="1" stroke-dasharray="2 2.15"/>
<line x1="202.38" y1="442.550" x2="202.38" y2="498" stroke="#bdcbe7" stroke-width="1" stroke-dasharray="2 2.15"/>
<line x1="202.38" y1="496.600" x2="202.38" y2="553" stroke="#bdcbe7" stroke-width="1" stroke-dasharray="2 2.15"/>
<line x1="202.38" y1="551.050" x2="202.38" y2="607" stroke="#bdcbe7" stroke-width="1" stroke-dasharray="2 2.15"/>
<line x1="224.60" y1="0.450" x2="224.60" y2="4.600" stroke="#bdcbe7" stroke-width="1" stroke-dasharray="2 2.15"/>
<line x1="224.60" y1="4.600" x2="224.60" y2="27.530" stroke="#bdcbe7" stroke-width="1" stroke-dasharray="2 2.15"/>
<line x1="224.60" y1="27.530" x2="224.60" y2="50.460" stroke="#bdcbe7" stroke-width="1" stroke-dasharray="2 2.15"/>
<line x1="224.60" y1="50.460" x2="224.60" y2="73.390" stroke="#bdcbe7" stroke-width="1" stroke-dasharray="2 2.15"/>
<line x1="224.60" y1="73.390" x2="224.60" y2="96.320" stroke="#bdcbe7" stroke-width="1" stroke-dasharray="2 2.15"/>
<line x1="224.60" y1="96.320" x2="224.60" y2="119.250" stroke="#bdcbe7" stroke-width="1" stroke-dasharray="2 2.15"/>
<line x1="224.60" y1="119.250" x2="224.60" y2="142.180" stroke="#bdcbe7" stroke-width="1" stroke-dasharray="2 2.15"/>
<line x1="224.60" y1="142.180" x2="224.60" y2="165.110" stroke="#bdcbe7" stroke-width="1" stroke-dasharray="2 2.15"/>
<line x1="224.60" y1="165.110" x2="224.60" y2="188.040" stroke="#bdcbe7" stroke-width="1" stroke-dasharray="2 2.15"/>
<line x1="224.60" y1="188.040" x2="224.60" y2="210.970" stroke="#bdcbe7" stroke-width="1" stroke-dasharray="2 2.15"/>
<line x1="224.60" y1="210.970" x2="224.60" y2="233.900" stroke="#bdcbe7" stroke-width="1" stroke-dasharray="2 2.15"/>
<line x1="224.60" y1="233.900" x2="224.60" y2="256.830" stroke="#bdcbe7" stroke-width="1" stroke-dasharray="2 2.15"/>
<line x1="224.60" y1="256.830" x2="224.60" y2="279.760" stroke="#bdcbe7" stroke-width="1" stroke-dasharray="2 2.15"/>
<line x1="224.60" y1="279.760" x2="224.60" y2="302.690" stroke="#bdcbe7" stroke-width="1" stroke-dasharray="2 2.15"/>
<line x1="224.60" y1="302.690" x2="224.60" y2="325.620" stroke="#bdcbe7" stroke-width="1" stroke-dasharray="2 2.15"/>
<line x1="224.60" y1="325.620" x2="224.60" y2="348.550" stroke="#bdcbe7" stroke-width="1" stroke-dasharray="2 2.15"/>
<line x1="224.60" y1="348.550" x2="224.60" y2="371.480" stroke="#bdcbe7" stroke-width="1" stroke-dasharray="2 2.15"/>
<line x1="224.60" y1="371.480" x2="224.60" y2="394.410" stroke="#bdcbe7" stroke-width="1" stroke-dasharray="2 2.15"/>
<line x1="224.60" y1="394.410" x2="224.60" y2="417.340" stroke="#bdcbe7" stroke-width="1" stroke-dasharray="2 2.15"/>
<line x1="224.60" y1="417.340" x2="224.60" y2="440.270" stroke="#bdcbe7" stroke-width="1" stroke-dasharray="2 2.15"/>
<line x1="224.60" y1="440.270" x2="224.60" y2="443.000" stroke="#bdcbe7" stroke-width="1" stroke-dasharray="2 2.15"/>
<line x1="224.60" y1="442.550" x2="224.60" y2="498" stroke="#bdcbe7" stroke-width="1" stroke-dasharray="2 2.15"/>
<line x1="224.60" y1="496.600" x2="224.60" y2="553" stroke="#bdcbe7" stroke-width="1" stroke-dasharray="2 2.15"/>
<line x1="224.60" y1="551.050" x2="224.60" y2="607" stroke="#bdcbe7" stroke-width="1" stroke-dasharray="2 2.15"/>
<line x1="246.82" y1="0.450" x2="246.82" y2="4.600" stroke="#bdcbe7" stroke-width="1" stroke-dasharray="2 2.15"/>
<line x1="246.82" y1="4.600" x2="246.82" y2="27.530" stroke="#bdcbe7" stroke-width="1" stroke-dasharray="2 2.15"/>
<line x1="246.82" y1="27.530" x2="246.82" y2="50.460" stroke="#bdcbe7" stroke-width="1" stroke-dasharray="2 2.15"/>
<line x1="246.82" y1="50.460" x2="246.82" y2="73.390" stroke="#bdcbe7" stroke-width="1" stroke-dasharray="2 2.15"/>
<line x1="246.82" y1="73.390" x2="246.82" y2="96.320" stroke="#bdcbe7" stroke-width="1" stroke-dasharray="2 2.15"/>
<line x1="246.82" y1="96.320" x2="246.82" y2="119.250" stroke="#bdcbe7" stroke-width="1" stroke-dasharray="2 2.15"/>
<line x1="246.82" y1="119.250" x2="246.82" y2="142.180" stroke="#bdcbe7" stroke-width="1" stroke-dasharray="2 2.15"/>
<line x1="246.82" y1="142.180" x2="246.82" y2="165.110" stroke="#bdcbe7" stroke-width="1" stroke-dasharray="2 2.15"/>
<line x1="246.82" y1="165.110" x2="246.82" y2="188.040" stroke="#bdcbe7" stroke-width="1" stroke-dasharray="2 2.15"/>
<line x1="246.82" y1="188.040" x2="246.82" y2="210.970" stroke="#bdcbe7" stroke-width="1" stroke-dasharray="2 2.15"/>
<line x1="246.82" y1="210.970" x2="246.82" y2="233.900" stroke="#bdcbe7" stroke-width="1" stroke-dasharray="2 2.15"/>
<line x1="246.82" y1="233.900" x2="246.82" y2="256.830" stroke="#bdcbe7" stroke-width="1" stroke-dasharray="2 2.15"/>
<line x1="246.82" y1="256.830" x2="246.82" y2="279.760" stroke="#bdcbe7" stroke-width="1" stroke-dasharray="2 2.15"/>
<line x1="246.82" y1="279.760" x2="246.82" y2="302.690" stroke="#bdcbe7" stroke-width="1" stroke-dasharray="2 2.15"/>
<line x1="246.82" y1="302.690" x2="246.82" y2="325.620" stroke="#bdcbe7" stroke-width="1" stroke-dasharray="2 2.15"/>
<line x1="246.82" y1="325.620" x2="246.82" y2="348.550" stroke="#bdcbe7" stroke-width="1" stroke-dasharray="2 2.15"/>
<line x1="246.82" y1="348.550" x2="246.82" y2="371.480" stroke="#bdcbe7" stroke-width="1" stroke-dasharray="2 2.15"/>
<line x1="246.82" y1="371.480" x2="246.82" y2="394.410" stroke="#bdcbe7" stroke-width="1" stroke-dasharray="2 2.15"/>
<line x1="246.82" y1="394.410" x2="246.82" y2="417.340" stroke="#bdcbe7" stroke-width="1" stroke-dasharray="2 2.15"/>
<line x1="246.82" y1="417.340" x2="246.82" y2="440.270" stroke="#bdcbe7" stroke-width="1" stroke-dasharray="2 2.15"/>
<line x1="246.82" y1="440.270" x2="246.82" y2="443.000" stroke="#bdcbe7" stroke-width="1" stroke-dasharray="2 2.15"/>
<line x1="246.82" y1="442.550" x2="246.82" y2="498" stroke="#bdcbe7" stroke-width="1" stroke-dasharray="2 2.15"/>
<line x1="246.82" y1="496.600" x2="246.82" y2="553" stroke="#bdcbe7" stroke-width="1" stroke-dasharray="2 2.15"/>
<line x1="246.82" y1="551.050" x2="246.82" y2="607" stroke="#bdcbe7" stroke-width="1" stroke-dasharray="2 2.15"/>
<line x1="269.04" y1="0.450" x2="269.04" y2="4.600" stroke="#bdcbe7" stroke-width="1" stroke-dasharray="2 2.15"/>
<line x1="269.04" y1="4.600" x2="269.04" y2="27.530" stroke="#bdcbe7" stroke-width="1" stroke-dasharray="2 2.15"/>
<line x1="269.04" y1="27.530" x2="269.04" y2="50.460" stroke="#bdcbe7" stroke-width="1" stroke-dasharray="2 2.15"/>
<line x1="269.04" y1="50.460" x2="269.04" y2="73.390" stroke="#bdcbe7" stroke-width="1" stroke-dasharray="2 2.15"/>
<line x1="269.04" y1="73.390" x2="269.04" y2="96.320" stroke="#bdcbe7" stroke-width="1" stroke-dasharray="2 2.15"/>
<line x1="269.04" y1="96.320" x2="269.04" y2="119.250" stroke="#bdcbe7" stroke-width="1" stroke-dasharray="2 2.15"/>
<line x1="269.04" y1="119.250" x2="269.04" y2="142.180" stroke="#bdcbe7" stroke-width="1" stroke-dasharray="2 2.15"/>
<line x1="269.04" y1="142.180" x2="269.04" y2="165.110" stroke="#bdcbe7" stroke-width="1" stroke-dasharray="2 2.15"/>
<line x1="269.04" y1="165.110" x2="269.04" y2="188.040" stroke="#bdcbe7" stroke-width="1" stroke-dasharray="2 2.15"/>
<line x1="269.04" y1="188.040" x2="269.04" y2="210.970" stroke="#bdcbe7" stroke-width="1" stroke-dasharray="2 2.15"/>
<line x1="269.04" y1="210.970" x2="269.04" y2="233.900" stroke="#bdcbe7" stroke-width="1" stroke-dasharray="2 2.15"/>
<line x1="269.04" y1="233.900" x2="269.04" y2="256.830" stroke="#bdcbe7" stroke-width="1" stroke-dasharray="2 2.15"/>
<line x1="269.04" y1="256.830" x2="269.04" y2="279.760" stroke="#bdcbe7" stroke-width="1" stroke-dasharray="2 2.15"/>
<line x1="269.04" y1="279.760" x2="269.04" y2="302.690" stroke="#bdcbe7" stroke-width="1" stroke-dasharray="2 2.15"/>
<line x1="269.04" y1="302.690" x2="269.04" y2="325.620" stroke="#bdcbe7" stroke-width="1" stroke-dasharray="2 2.15"/>
<line x1="269.04" y1="325.620" x2="269.04" y2="348.550" stroke="#bdcbe7" stroke-width="1" stroke-dasharray="2 2.15"/>
<line x1="269.04" y1="348.550" x2="269.04" y2="371.480" stroke="#bdcbe7" stroke-width="1" stroke-dasharray="2 2.15"/>
<line x1="269.04" y1="371.480" x2="269.04" y2="394.410" stroke="#bdcbe7" stroke-width="1" stroke-dasharray="2 2.15"/>
<line x1="269.04" y1="394.410" x2="269.04" y2="417.340" stroke="#bdcbe7" stroke-width="1" stroke-dasharray="2 2.15"/>
<line x1="269.04" y1="417.340" x2="269.04" y2="440.270" stroke="#bdcbe7" stroke-width="1" stroke-dasharray="2 2.15"/>
<line x1="269.04" y1="440.270" x2="269.04" y2="443.000" stroke="#bdcbe7" stroke-width="1" stroke-dasharray="2 2.15"/>
<line x1="269.04" y1="442.550" x2="269.04" y2="498" stroke="#bdcbe7" stroke-width="1" stroke-dasharray="2 2.15"/>
<line x1="269.04" y1="496.600" x2="269.04" y2="553" stroke="#bdcbe7" stroke-width="1" stroke-dasharray="2 2.15"/>
<line x1="269.04" y1="551.050" x2="269.04" y2="607" stroke="#bdcbe7" stroke-width="1" stroke-dasharray="2 2.15"/>
<line x1="291.26" y1="0.450" x2="291.26" y2="4.600" stroke="#bdcbe7" stroke-width="1" stroke-dasharray="2 2.15"/>
<line x1="291.26" y1="4.600" x2="291.26" y2="27.530" stroke="#bdcbe7" stroke-width="1" stroke-dasharray="2 2.15"/>
<line x1="291.26" y1="27.530" x2="291.26" y2="50.460" stroke="#bdcbe7" stroke-width="1" stroke-dasharray="2 2.15"/>
<line x1="291.26" y1="50.460" x2="291.26" y2="73.390" stroke="#bdcbe7" stroke-width="1" stroke-dasharray="2 2.15"/>
<line x1="291.26" y1="73.390" x2="291.26" y2="96.320" stroke="#bdcbe7" stroke-width="1" stroke-dasharray="2 2.15"/>
<line x1="291.26" y1="96.320" x2="291.26" y2="119.250" stroke="#bdcbe7" stroke-width="1" stroke-dasharray="2 2.15"/>
<line x1="291.26" y1="119.250" x2="291.26" y2="142.180" stroke="#bdcbe7" stroke-width="1" stroke-dasharray="2 2.15"/>
<line x1="291.26" y1="142.180" x2="291.26" y2="165.110" stroke="#bdcbe7" stroke-width="1" stroke-dasharray="2 2.15"/>
<line x1="291.26" y1="165.110" x2="291.26" y2="188.040" stroke="#bdcbe7" stroke-width="1" stroke-dasharray="2 2.15"/>
<line x1="291.26" y1="188.040" x2="291.26" y2="210.970" stroke="#bdcbe7" stroke-width="1" stroke-dasharray="2 2.15"/>
<line x1="291.26" y1="210.970" x2="291.26" y2="233.900" stroke="#bdcbe7" stroke-width="1" stroke-dasharray="2 2.15"/>
<line x1="291.26" y1="233.900" x2="291.26" y2="256.830" stroke="#bdcbe7" stroke-width="1" stroke-dasharray="2 2.15"/>
<line x1="291.26" y1="256.830" x2="291.26" y2="279.760" stroke="#bdcbe7" stroke-width="1" stroke-dasharray="2 2.15"/>
<line x1="291.26" y1="279.760" x2="291.26" y2="302.690" stroke="#bdcbe7" stroke-width="1" stroke-dasharray="2 2.15"/>
<line x1="291.26" y1="302.690" x2="291.26" y2="325.620" stroke="#bdcbe7" stroke-width="1" stroke-dasharray="2 2.15"/>
<line x1="291.26" y1="325.620" x2="291.26" y2="348.550" stroke="#bdcbe7" stroke-width="1" stroke-dasharray="2 2.15"/>
<line x1="291.26" y1="348.550" x2="291.26" y2="371.480" stroke="#bdcbe7" stroke-width="1" stroke-dasharray="2 2.15"/>
<line x1="291.26" y1="371.480" x2="291.26" y2="394.410" stroke="#bdcbe7" stroke-width="1" stroke-dasharray="2 2.15"/>
<line x1="291.26" y1="394.410" x2="291.26" y2="417.340" stroke="#bdcbe7" stroke-width="1" stroke-dasharray="2 2.15"/>
<line x1="291.26" y1="417.340" x2="291.26" y2="440.270" stroke="#bdcbe7" stroke-width="1" stroke-dasharray="2 2.15"/>
<line x1="291.26" y1="440.270" x2="291.26" y2="443.000" stroke="#bdcbe7" stroke-width="1" stroke-dasharray="2 2.15"/>
<line x1="291.26" y1="442.550" x2="291.26" y2="498" stroke="#bdcbe7" stroke-width="1" stroke-dasharray="2 2.15"/>
<line x1="291.26" y1="496.600" x2="291.26" y2="553" stroke="#bdcbe7" stroke-width="1" stroke-dasharray="2 2.15"/>
<line x1="291.26" y1="551.050" x2="291.26" y2="607" stroke="#bdcbe7" stroke-width="1" stroke-dasharray="2 2.15"/>
<line x1="313.48" y1="0.450" x2="313.48" y2="4.600" stroke="#bdcbe7" stroke-width="1" stroke-dasharray="2 2.15"/>
<line x1="313.48" y1="4.600" x2="313.48" y2="27.530" stroke="#bdcbe7" stroke-width="1" stroke-dasharray="2 2.15"/>
<line x1="313.48" y1="27.530" x2="313.48" y2="50.460" stroke="#bdcbe7" stroke-width="1" stroke-dasharray="2 2.15"/>
<line x1="313.48" y1="50.460" x2="313.48" y2="73.390" stroke="#bdcbe7" stroke-width="1" stroke-dasharray="2 2.15"/>
<line x1="313.48" y1="73.390" x2="313.48" y2="96.320" stroke="#bdcbe7" stroke-width="1" stroke-dasharray="2 2.15"/>
<line x1="313.48" y1="96.320" x2="313.48" y2="119.250" stroke="#bdcbe7" stroke-width="1" stroke-dasharray="2 2.15"/>
<line x1="313.48" y1="119.250" x2="313.48" y2="142.180" stroke="#bdcbe7" stroke-width="1" stroke-dasharray="2 2.15"/>
<line x1="313.48" y1="142.180" x2="313.48" y2="165.110" stroke="#bdcbe7" stroke-width="1" stroke-dasharray="2 2.15"/>
<line x1="313.48" y1="165.110" x2="313.48" y2="188.040" stroke="#bdcbe7" stroke-width="1" stroke-dasharray="2 2.15"/>
<line x1="313.48" y1="188.040" x2="313.48" y2="210.970" stroke="#bdcbe7" stroke-width="1" stroke-dasharray="2 2.15"/>
<line x1="313.48" y1="210.970" x2="313.48" y2="233.900" stroke="#bdcbe7" stroke-width="1" stroke-dasharray="2 2.15"/>
<line x1="313.48" y1="233.900" x2="313.48" y2="256.830" stroke="#bdcbe7" stroke-width="1" stroke-dasharray="2 2.15"/>
<line x1="313.48" y1="256.830" x2="313.48" y2="279.760" stroke="#bdcbe7" stroke-width="1" stroke-dasharray="2 2.15"/>
<line x1="313.48" y1="279.760" x2="313.48" y2="302.690" stroke="#bdcbe7" stroke-width="1" stroke-dasharray="2 2.15"/>
<line x1="313.48" y1="302.690" x2="313.48" y2="325.620" stroke="#bdcbe7" stroke-width="1" stroke-dasharray="2 2.15"/>
<line x1="313.48" y1="325.620" x2="313.48" y2="348.550" stroke="#bdcbe7" stroke-width="1" stroke-dasharray="2 2.15"/>
<line x1="313.48" y1="348.550" x2="313.48" y2="371.480" stroke="#bdcbe7" stroke-width="1" stroke-dasharray="2 2.15"/>
<line x1="313.48" y1="371.480" x2="313.48" y2="394.410" stroke="#bdcbe7" stroke-width="1" stroke-dasharray="2 2.15"/>
<line x1="313.48" y1="394.410" x2="313.48" y2="417.340" stroke="#bdcbe7" stroke-width="1" stroke-dasharray="2 2.15"/>
<line x1="313.48" y1="417.340" x2="313.48" y2="440.270" stroke="#bdcbe7" stroke-width="1" stroke-dasharray="2 2.15"/>
<line x1="313.48" y1="440.270" x2="313.48" y2="443.000" stroke="#bdcbe7" stroke-width="1" stroke-dasharray="2 2.15"/>
<line x1="313.48" y1="442.550" x2="313.48" y2="498" stroke="#bdcbe7" stroke-width="1" stroke-dasharray="2 2.15"/>
<line x1="313.48" y1="496.600" x2="313.48" y2="553" stroke="#bdcbe7" stroke-width="1" stroke-dasharray="2 2.15"/>
<line x1="313.48" y1="551.050" x2="313.48" y2="607" stroke="#bdcbe7" stroke-width="1" stroke-dasharray="2 2.15"/>
<line x1="335.70" y1="0.450" x2="335.70" y2="4.600" stroke="#bdcbe7" stroke-width="1" stroke-dasharray="2 2.15"/>
<line x1="335.70" y1="4.600" x2="335.70" y2="27.530" stroke="#bdcbe7" stroke-width="1" stroke-dasharray="2 2.15"/>
<line x1="335.70" y1="27.530" x2="335.70" y2="50.460" stroke="#bdcbe7" stroke-width="1" stroke-dasharray="2 2.15"/>
<line x1="335.70" y1="50.460" x2="335.70" y2="73.390" stroke="#bdcbe7" stroke-width="1" stroke-dasharray="2 2.15"/>
<line x1="335.70" y1="73.390" x2="335.70" y2="96.320" stroke="#bdcbe7" stroke-width="1" stroke-dasharray="2 2.15"/>
<line x1="335.70" y1="96.320" x2="335.70" y2="119.250" stroke="#bdcbe7" stroke-width="1" stroke-dasharray="2 2.15"/>
<line x1="335.70" y1="119.250" x2="335.70" y2="142.180" stroke="#bdcbe7" stroke-width="1" stroke-dasharray="2 2.15"/>
<line x1="335.70" y1="142.180" x2="335.70" y2="165.110" stroke="#bdcbe7" stroke-width="1" stroke-dasharray="2 2.15"/>
<line x1="335.70" y1="165.110" x2="335.70" y2="188.040" stroke="#bdcbe7" stroke-width="1" stroke-dasharray="2 2.15"/>
<line x1="335.70" y1="188.040" x2="335.70" y2="210.970" stroke="#bdcbe7" stroke-width="1" stroke-dasharray="2 2.15"/>
<line x1="335.70" y1="210.970" x2="335.70" y2="233.900" stroke="#bdcbe7" stroke-width="1" stroke-dasharray="2 2.15"/>
<line x1="335.70" y1="233.900" x2="335.70" y2="256.830" stroke="#bdcbe7" stroke-width="1" stroke-dasharray="2 2.15"/>
<line x1="335.70" y1="256.830" x2="335.70" y2="279.760" stroke="#bdcbe7" stroke-width="1" stroke-dasharray="2 2.15"/>
<line x1="335.70" y1="279.760" x2="335.70" y2="302.690" stroke="#bdcbe7" stroke-width="1" stroke-dasharray="2 2.15"/>
<line x1="335.70" y1="302.690" x2="335.70" y2="325.620" stroke="#bdcbe7" stroke-width="1" stroke-dasharray="2 2.15"/>
<line x1="335.70" y1="325.620" x2="335.70" y2="348.550" stroke="#bdcbe7" stroke-width="1" stroke-dasharray="2 2.15"/>
<line x1="335.70" y1="348.550" x2="335.70" y2="371.480" stroke="#bdcbe7" stroke-width="1" stroke-dasharray="2 2.15"/>
<line x1="335.70" y1="371.480" x2="335.70" y2="394.410" stroke="#bdcbe7" stroke-width="1" stroke-dasharray="2 2.15"/>
<line x1="335.70" y1="394.410" x2="335.70" y2="417.340" stroke="#bdcbe7" stroke-width="1" stroke-dasharray="2 2.15"/>
<line x1="335.70" y1="417.340" x2="335.70" y2="440.270" stroke="#bdcbe7" stroke-width="1" stroke-dasharray="2 2.15"/>
<line x1="335.70" y1="440.270" x2="335.70" y2="443.000" stroke="#bdcbe7" stroke-width="1" stroke-dasharray="2 2.15"/>
<line x1="335.70" y1="442.550" x2="335.70" y2="498" stroke="#bdcbe7" stroke-width="1" stroke-dasharray="2 2.15"/>
<line x1="335.70" y1="496.600" x2="335.70" y2="553" stroke="#bdcbe7" stroke-width="1" stroke-dasharray="2 2.15"/>
<line x1="335.70" y1="551.050" x2="335.70" y2="607" stroke="#bdcbe7" stroke-width="1" stroke-dasharray="2 2.15"/>
<line x1="357.92" y1="0.450" x2="357.92" y2="4.600" stroke="#bdcbe7" stroke-width="1" stroke-dasharray="2 2.15"/>
<line x1="357.92" y1="4.600" x2="357.92" y2="27.530" stroke="#bdcbe7" stroke-width="1" stroke-dasharray="2 2.15"/>
<line x1="357.92" y1="27.530" x2="357.92" y2="50.460" stroke="#bdcbe7" stroke-width="1" stroke-dasharray="2 2.15"/>
<line x1="357.92" y1="50.460" x2="357.92" y2="73.390" stroke="#bdcbe7" stroke-width="1" stroke-dasharray="2 2.15"/>
<line x1="357.92" y1="73.390" x2="357.92" y2="96.320" stroke="#bdcbe7" stroke-width="1" stroke-dasharray="2 2.15"/>
<line x1="357.92" y1="96.320" x2="357.92" y2="119.250" stroke="#bdcbe7" stroke-width="1" stroke-dasharray="2 2.15"/>
<line x1="357.92" y1="119.250" x2="357.92" y2="142.180" stroke="#bdcbe7" stroke-width="1" stroke-dasharray="2 2.15"/>
<line x1="357.92" y1="142.180" x2="357.92" y2="165.110" stroke="#bdcbe7" stroke-width="1" stroke-dasharray="2 2.15"/>
<line x1="357.92" y1="165.110" x2="357.92" y2="188.040" stroke="#bdcbe7" stroke-width="1" stroke-dasharray="2 2.15"/>
<line x1="357.92" y1="188.040" x2="357.92" y2="210.970" stroke="#bdcbe7" stroke-width="1" stroke-dasharray="2 2.15"/>
<line x1="357.92" y1="210.970" x2="357.92" y2="233.900" stroke="#bdcbe7" stroke-width="1" stroke-dasharray="2 2.15"/>
<line x1="357.92" y1="233.900" x2="357.92" y2="256.830" stroke="#bdcbe7" stroke-width="1" stroke-dasharray="2 2.15"/>
<line x1="357.92" y1="256.830" x2="357.92" y2="279.760" stroke="#bdcbe7" stroke-width="1" stroke-dasharray="2 2.15"/>
<line x1="357.92" y1="279.760" x2="357.92" y2="302.690" stroke="#bdcbe7" stroke-width="1" stroke-dasharray="2 2.15"/>
<line x1="357.92" y1="302.690" x2="357.92" y2="325.620" stroke="#bdcbe7" stroke-width="1" stroke-dasharray="2 2.15"/>
<line x1="357.92" y1="325.620" x2="357.92" y2="348.550" stroke="#bdcbe7" stroke-width="1" stroke-dasharray="2 2.15"/>
<line x1="357.92" y1="348.550" x2="357.92" y2="371.480" stroke="#bdcbe7" stroke-width="1" stroke-dasharray="2 2.15"/>
<line x1="357.92" y1="371.480" x2="357.92" y2="394.410" stroke="#bdcbe7" stroke-width="1" stroke-dasharray="2 2.15"/>
<line x1="357.92" y1="394.410" x2="357.92" y2="417.340" stroke="#bdcbe7" stroke-width="1" stroke-dasharray="2 2.15"/>
<line x1="357.92" y1="417.340" x2="357.92" y2="440.270" stroke="#bdcbe7" stroke-width="1" stroke-dasharray="2 2.15"/>
<line x1="357.92" y1="440.270" x2="357.92" y2="443.000" stroke="#bdcbe7" stroke-width="1" stroke-dasharray="2 2.15"/>
<line x1="357.92" y1="442.550" x2="357.92" y2="498" stroke="#bdcbe7" stroke-width="1" stroke-dasharray="2 2.15"/>
<line x1="357.92" y1="496.600" x2="357.92" y2="553" stroke="#bdcbe7" stroke-width="1" stroke-dasharray="2 2.15"/>
<line x1="357.92" y1="551.050" x2="357.92" y2="607" stroke="#bdcbe7" stroke-width="1" stroke-dasharray="2 2.15"/>
<line x1="380.14" y1="0.450" x2="380.14" y2="4.600" stroke="#bdcbe7" stroke-width="1" stroke-dasharray="2 2.15"/>
<line x1="380.14" y1="4.600" x2="380.14" y2="27.530" stroke="#bdcbe7" stroke-width="1" stroke-dasharray="2 2.15"/>
<line x1="380.14" y1="27.530" x2="380.14" y2="50.460" stroke="#bdcbe7" stroke-width="1" stroke-dasharray="2 2.15"/>
<line x1="380.14" y1="50.460" x2="380.14" y2="73.390" stroke="#bdcbe7" stroke-width="1" stroke-dasharray="2 2.15"/>
<line x1="380.14" y1="73.390" x2="380.14" y2="96.320" stroke="#bdcbe7" stroke-width="1" stroke-dasharray="2 2.15"/>
<line x1="380.14" y1="96.320" x2="380.14" y2="119.250" stroke="#bdcbe7" stroke-width="1" stroke-dasharray="2 2.15"/>
<line x1="380.14" y1="119.250" x2="380.14" y2="142.180" stroke="#bdcbe7" stroke-width="1" stroke-dasharray="2 2.15"/>
<line x1="380.14" y1="142.180" x2="380.14" y2="165.110" stroke="#bdcbe7" stroke-width="1" stroke-dasharray="2 2.15"/>
<line x1="380.14" y1="165.110" x2="380.14" y2="188.040" stroke="#bdcbe7" stroke-width="1" stroke-dasharray="2 2.15"/>
<line x1="380.14" y1="188.040" x2="380.14" y2="210.970" stroke="#bdcbe7" stroke-width="1" stroke-dasharray="2 2.15"/>
<line x1="380.14" y1="210.970" x2="380.14" y2="233.900" stroke="#bdcbe7" stroke-width="1" stroke-dasharray="2 2.15"/>
<line x1="380.14" y1="233.900" x2="380.14" y2="256.830" stroke="#bdcbe7" stroke-width="1" stroke-dasharray="2 2.15"/>
<line x1="380.14" y1="256.830" x2="380.14" y2="279.760" stroke="#bdcbe7" stroke-width="1" stroke-dasharray="2 2.15"/>
<line x1="380.14" y1="279.760" x2="380.14" y2="302.690" stroke="#bdcbe7" stroke-width="1" stroke-dasharray="2 2.15"/>
<line x1="380.14" y1="302.690" x2="380.14" y2="325.620" stroke="#bdcbe7" stroke-width="1" stroke-dasharray="2 2.15"/>
<line x1="380.14" y1="325.620" x2="380.14" y2="348.550" stroke="#bdcbe7" stroke-width="1" stroke-dasharray="2 2.15"/>
<line x1="380.14" y1="348.550" x2="380.14" y2="371.480" stroke="#bdcbe7" stroke-width="1" stroke-dasharray="2 2.15"/>
<line x1="380.14" y1="371.480" x2="380.14" y2="394.410" stroke="#bdcbe7" stroke-width="1" stroke-dasharray="2 2.15"/>
<line x1="380.14" y1="394.410" x2="380.14" y2="417.340" stroke="#bdcbe7" stroke-width="1" stroke-dasharray="2 2.15"/>
<line x1="380.14" y1="417.340" x2="380.14" y2="440.270" stroke="#bdcbe7" stroke-width="1" stroke-dasharray="2 2.15"/>
<line x1="380.14" y1="440.270" x2="380.14" y2="443.000" stroke="#bdcbe7" stroke-width="1" stroke-dasharray="2 2.15"/>
<line x1="380.14" y1="442.550" x2="380.14" y2="498" stroke="#bdcbe7" stroke-width="1" stroke-dasharray="2 2.15"/>
<line x1="380.14" y1="496.600" x2="380.14" y2="553" stroke="#bdcbe7" stroke-width="1" stroke-dasharray="2 2.15"/>
<line x1="380.14" y1="551.050" x2="380.14" y2="607" stroke="#bdcbe7" stroke-width="1" stroke-dasharray="2 2.15"/>
<line x1="402.36" y1="0.450" x2="402.36" y2="4.600" stroke="#bdcbe7" stroke-width="1" stroke-dasharray="2 2.15"/>
<line x1="402.36" y1="4.600" x2="402.36" y2="27.530" stroke="#bdcbe7" stroke-width="1" stroke-dasharray="2 2.15"/>
<line x1="402.36" y1="27.530" x2="402.36" y2="50.460" stroke="#bdcbe7" stroke-width="1" stroke-dasharray="2 2.15"/>
<line x1="402.36" y1="50.460" x2="402.36" y2="73.390" stroke="#bdcbe7" stroke-width="1" stroke-dasharray="2 2.15"/>
<line x1="402.36" y1="73.390" x2="402.36" y2="96.320" stroke="#bdcbe7" stroke-width="1" stroke-dasharray="2 2.15"/>
<line x1="402.36" y1="96.320" x2="402.36" y2="119.250" stroke="#bdcbe7" stroke-width="1" stroke-dasharray="2 2.15"/>
<line x1="402.36" y1="119.250" x2="402.36" y2="142.180" stroke="#bdcbe7" stroke-width="1" stroke-dasharray="2 2.15"/>
<line x1="402.36" y1="142.180" x2="402.36" y2="165.110" stroke="#bdcbe7" stroke-width="1" stroke-dasharray="2 2.15"/>
<line x1="402.36" y1="165.110" x2="402.36" y2="188.040" stroke="#bdcbe7" stroke-width="1" stroke-dasharray="2 2.15"/>
<line x1="402.36" y1="188.040" x2="402.36" y2="210.970" stroke="#bdcbe7" stroke-width="1" stroke-dasharray="2 2.15"/>
<line x1="402.36" y1="210.970" x2="402.36" y2="233.900" stroke="#bdcbe7" stroke-width="1" stroke-dasharray="2 2.15"/>
<line x1="402.36" y1="233.900" x2="402.36" y2="256.830" stroke="#bdcbe7" stroke-width="1" stroke-dasharray="2 2.15"/>
<line x1="402.36" y1="256.830" x2="402.36" y2="279.760" stroke="#bdcbe7" stroke-width="1" stroke-dasharray="2 2.15"/>
<line x1="402.36" y1="279.760" x2="402.36" y2="302.690" stroke="#bdcbe7" stroke-width="1" stroke-dasharray="2 2.15"/>
<line x1="402.36" y1="302.690" x2="402.36" y2="325.620" stroke="#bdcbe7" stroke-width="1" stroke-dasharray="2 2.15"/>
<line x1="402.36" y1="325.620" x2="402.36" y2="348.550" stroke="#bdcbe7" stroke-width="1" stroke-dasharray="2 2.15"/>
<line x1="402.36" y1="348.550" x2="402.36" y2="371.480" stroke="#bdcbe7" stroke-width="1" stroke-dasharray="2 2.15"/>
<line x1="402.36" y1="371.480" x2="402.36" y2="394.410" stroke="#bdcbe7" stroke-width="1" stroke-dasharray="2 2.15"/>
<line x1="402.36" y1="394.410" x2="402.36" y2="417.340" stroke="#bdcbe7" stroke-width="1" stroke-dasharray="2 2.15"/>
<line x1="402.36" y1="417.340" x2="402.36" y2="440.270" stroke="#bdcbe7" stroke-width="1" stroke-dasharray="2 2.15"/>
<line x1="402.36" y1="440.270" x2="402.36" y2="443.000" stroke="#bdcbe7" stroke-width="1" stroke-dasharray="2 2.15"/>
<line x1="402.36" y1="442.550" x2="402.36" y2="498" stroke="#bdcbe7" stroke-width="1" stroke-dasharray="2 2.15"/>
<line x1="402.36" y1="496.600" x2="402.36" y2="553" stroke="#bdcbe7" stroke-width="1" stroke-dasharray="2 2.15"/>
<line x1="402.36" y1="551.050" x2="402.36" y2="607" stroke="#bdcbe7" stroke-width="1" stroke-dasharray="2 2.15"/>
<line x1="424.58" y1="0.450" x2="424.58" y2="4.600" stroke="#bdcbe7" stroke-width="1" stroke-dasharray="2 2.15"/>
<line x1="424.58" y1="4.600" x2="424.58" y2="27.530" stroke="#bdcbe7" stroke-width="1" stroke-dasharray="2 2.15"/>
<line x1="424.58" y1="27.530" x2="424.58" y2="50.460" stroke="#bdcbe7" stroke-width="1" stroke-dasharray="2 2.15"/>
<line x1="424.58" y1="50.460" x2="424.58" y2="73.390" stroke="#bdcbe7" stroke-width="1" stroke-dasharray="2 2.15"/>
<line x1="424.58" y1="73.390" x2="424.58" y2="96.320" stroke="#bdcbe7" stroke-width="1" stroke-dasharray="2 2.15"/>
<line x1="424.58" y1="96.320" x2="424.58" y2="119.250" stroke="#bdcbe7" stroke-width="1" stroke-dasharray="2 2.15"/>
<line x1="424.58" y1="119.250" x2="424.58" y2="142.180" stroke="#bdcbe7" stroke-width="1" stroke-dasharray="2 2.15"/>
<line x1="424.58" y1="142.180" x2="424.58" y2="165.110" stroke="#bdcbe7" stroke-width="1" stroke-dasharray="2 2.15"/>
<line x1="424.58" y1="165.110" x2="424.58" y2="188.040" stroke="#bdcbe7" stroke-width="1" stroke-dasharray="2 2.15"/>
<line x1="424.58" y1="188.040" x2="424.58" y2="210.970" stroke="#bdcbe7" stroke-width="1" stroke-dasharray="2 2.15"/>
<line x1="424.58" y1="210.970" x2="424.58" y2="233.900" stroke="#bdcbe7" stroke-width="1" stroke-dasharray="2 2.15"/>
<line x1="424.58" y1="233.900" x2="424.58" y2="256.830" stroke="#bdcbe7" stroke-width="1" stroke-dasharray="2 2.15"/>
<line x1="424.58" y1="256.830" x2="424.58" y2="279.760" stroke="#bdcbe7" stroke-width="1" stroke-dasharray="2 2.15"/>
<line x1="424.58" y1="279.760" x2="424.58" y2="302.690" stroke="#bdcbe7" stroke-width="1" stroke-dasharray="2 2.15"/>
<line x1="424.58" y1="302.690" x2="424.58" y2="325.620" stroke="#bdcbe7" stroke-width="1" stroke-dasharray="2 2.15"/>
<line x1="424.58" y1="325.620" x2="424.58" y2="348.550" stroke="#bdcbe7" stroke-width="1" stroke-dasharray="2 2.15"/>
<line x1="424.58" y1="348.550" x2="424.58" y2="371.480" stroke="#bdcbe7" stroke-width="1" stroke-dasharray="2 2.15"/>
<line x1="424.58" y1="371.480" x2="424.58" y2="394.410" stroke="#bdcbe7" stroke-width="1" stroke-dasharray="2 2.15"/>
<line x1="424.58" y1="394.410" x2="424.58" y2="417.340" stroke="#bdcbe7" stroke-width="1" stroke-dasharray="2 2.15"/>
<line x1="424.58" y1="417.340" x2="424.58" y2="440.270" stroke="#bdcbe7" stroke-width="1" stroke-dasharray="2 2.15"/>
<line x1="424.58" y1="440.270" x2="424.58" y2="443.000" stroke="#bdcbe7" stroke-width="1" stroke-dasharray="2 2.15"/>
<line x1="424.58" y1="442.550" x2="424.58" y2="498" stroke="#bdcbe7" stroke-width="1" stroke-dasharray="2 2.15"/>
<line x1="424.58" y1="496.600" x2="424.58" y2="553" stroke="#bdcbe7" stroke-width="1" stroke-dasharray="2 2.15"/>
<line x1="424.58" y1="551.050" x2="424.58" y2="607" stroke="#bdcbe7" stroke-width="1" stroke-dasharray="2 2.15"/>
<line x1="446.80" y1="0.450" x2="446.80" y2="4.600" stroke="#bdcbe7" stroke-width="1" stroke-dasharray="2 2.15"/>
<line x1="446.80" y1="4.600" x2="446.80" y2="27.530" stroke="#bdcbe7" stroke-width="1" stroke-dasharray="2 2.15"/>
<line x1="446.80" y1="27.530" x2="446.80" y2="50.460" stroke="#bdcbe7" stroke-width="1" stroke-dasharray="2 2.15"/>
<line x1="446.80" y1="50.460" x2="446.80" y2="73.390" stroke="#bdcbe7" stroke-width="1" stroke-dasharray="2 2.15"/>
<line x1="446.80" y1="73.390" x2="446.80" y2="96.320" stroke="#bdcbe7" stroke-width="1" stroke-dasharray="2 2.15"/>
<line x1="446.80" y1="96.320" x2="446.80" y2="119.250" stroke="#bdcbe7" stroke-width="1" stroke-dasharray="2 2.15"/>
<line x1="446.80" y1="119.250" x2="446.80" y2="142.180" stroke="#bdcbe7" stroke-width="1" stroke-dasharray="2 2.15"/>
<line x1="446.80" y1="142.180" x2="446.80" y2="165.110" stroke="#bdcbe7" stroke-width="1" stroke-dasharray="2 2.15"/>
<line x1="446.80" y1="165.110" x2="446.80" y2="188.040" stroke="#bdcbe7" stroke-width="1" stroke-dasharray="2 2.15"/>
<line x1="446.80" y1="188.040" x2="446.80" y2="210.970" stroke="#bdcbe7" stroke-width="1" stroke-dasharray="2 2.15"/>
<line x1="446.80" y1="210.970" x2="446.80" y2="233.900" stroke="#bdcbe7" stroke-width="1" stroke-dasharray="2 2.15"/>
<line x1="446.80" y1="233.900" x2="446.80" y2="256.830" stroke="#bdcbe7" stroke-width="1" stroke-dasharray="2 2.15"/>
<line x1="446.80" y1="256.830" x2="446.80" y2="279.760" stroke="#bdcbe7" stroke-width="1" stroke-dasharray="2 2.15"/>
<line x1="446.80" y1="279.760" x2="446.80" y2="302.690" stroke="#bdcbe7" stroke-width="1" stroke-dasharray="2 2.15"/>
<line x1="446.80" y1="302.690" x2="446.80" y2="325.620" stroke="#bdcbe7" stroke-width="1" stroke-dasharray="2 2.15"/>
<line x1="446.80" y1="325.620" x2="446.80" y2="348.550" stroke="#bdcbe7" stroke-width="1" stroke-dasharray="2 2.15"/>
<line x1="446.80" y1="348.550" x2="446.80" y2="371.480" stroke="#bdcbe7" stroke-width="1" stroke-dasharray="2 2.15"/>
<line x1="446.80" y1="371.480" x2="446.80" y2="394.410" stroke="#bdcbe7" stroke-width="1" stroke-dasharray="2 2.15"/>
<line x1="446.80" y1="394.410" x2="446.80" y2="417.340" stroke="#bdcbe7" stroke-width="1" stroke-dasharray="2 2.15"/>
<line x1="446.80" y1="417.340" x2="446.80" y2="440.270" stroke="#bdcbe7" stroke-width="1" stroke-dasharray="2 2.15"/>
<line x1="446.80" y1="440.270" x2="446.80" y2="443.000" stroke="#bdcbe7" stroke-width="1" stroke-dasharray="2 2.15"/>
<line x1="446.80" y1="442.550" x2="446.80" y2="498" stroke="#bdcbe7" stroke-width="1" stroke-dasharray="2 2.15"/>
<line x1="446.80" y1="496.600" x2="446.80" y2="553" stroke="#bdcbe7" stroke-width="1" stroke-dasharray="2 2.15"/>
<line x1="446.80" y1="551.050" x2="446.80" y2="607" stroke="#bdcbe7" stroke-width="1" stroke-dasharray="2 2.15"/>
<line x1="469.02" y1="0.450" x2="469.02" y2="4.600" stroke="#bdcbe7" stroke-width="1" stroke-dasharray="2 2.15"/>
<line x1="469.02" y1="4.600" x2="469.02" y2="27.530" stroke="#bdcbe7" stroke-width="1" stroke-dasharray="2 2.15"/>
<line x1="469.02" y1="27.530" x2="469.02" y2="50.460" stroke="#bdcbe7" stroke-width="1" stroke-dasharray="2 2.15"/>
<line x1="469.02" y1="50.460" x2="469.02" y2="73.390" stroke="#bdcbe7" stroke-width="1" stroke-dasharray="2 2.15"/>
<line x1="469.02" y1="73.390" x2="469.02" y2="96.320" stroke="#bdcbe7" stroke-width="1" stroke-dasharray="2 2.15"/>
<line x1="469.02" y1="96.320" x2="469.02" y2="119.250" stroke="#bdcbe7" stroke-width="1" stroke-dasharray="2 2.15"/>
<line x1="469.02" y1="119.250" x2="469.02" y2="142.180" stroke="#bdcbe7" stroke-width="1" stroke-dasharray="2 2.15"/>
<line x1="469.02" y1="142.180" x2="469.02" y2="165.110" stroke="#bdcbe7" stroke-width="1" stroke-dasharray="2 2.15"/>
<line x1="469.02" y1="165.110" x2="469.02" y2="188.040" stroke="#bdcbe7" stroke-width="1" stroke-dasharray="2 2.15"/>
<line x1="469.02" y1="188.040" x2="469.02" y2="210.970" stroke="#bdcbe7" stroke-width="1" stroke-dasharray="2 2.15"/>
<line x1="469.02" y1="210.970" x2="469.02" y2="233.900" stroke="#bdcbe7" stroke-width="1" stroke-dasharray="2 2.15"/>
<line x1="469.02" y1="233.900" x2="469.02" y2="256.830" stroke="#bdcbe7" stroke-width="1" stroke-dasharray="2 2.15"/>
<line x1="469.02" y1="256.830" x2="469.02" y2="279.760" stroke="#bdcbe7" stroke-width="1" stroke-dasharray="2 2.15"/>
<line x1="469.02" y1="279.760" x2="469.02" y2="302.690" stroke="#bdcbe7" stroke-width="1" stroke-dasharray="2 2.15"/>
<line x1="469.02" y1="302.690" x2="469.02" y2="325.620" stroke="#bdcbe7" stroke-width="1" stroke-dasharray="2 2.15"/>
<line x1="469.02" y1="325.620" x2="469.02" y2="348.550" stroke="#bdcbe7" stroke-width="1" stroke-dasharray="2 2.15"/>
<line x1="469.02" y1="348.550" x2="469.02" y2="371.480" stroke="#bdcbe7" stroke-width="1" stroke-dasharray="2 2.15"/>
<line x1="469.02" y1="371.480" x2="469.02" y2="394.410" stroke="#bdcbe7" stroke-width="1" stroke-dasharray="2 2.15"/>
<line x1="469.02" y1="394.410" x2="469.02" y2="417.340" stroke="#bdcbe7" stroke-width="1" stroke-dasharray="2 2.15"/>
<line x1="469.02" y1="417.340" x2="469.02" y2="440.270" stroke="#bdcbe7" stroke-width="1" stroke-dasharray="2 2.15"/>
<line x1="469.02" y1="440.270" x2="469.02" y2="443.000" stroke="#bdcbe7" stroke-width="1" stroke-dasharray="2 2.15"/>
<line x1="469.02" y1="442.550" x2="469.02" y2="498" stroke="#bdcbe7" stroke-width="1" stroke-dasharray="2 2.15"/>
<line x1="469.02" y1="496.600" x2="469.02" y2="553" stroke="#bdcbe7" stroke-width="1" stroke-dasharray="2 2.15"/>
<line x1="469.02" y1="551.050" x2="469.02" y2="607" stroke="#bdcbe7" stroke-width="1" stroke-dasharray="2 2.15"/>
<line x1="491.24" y1="0.450" x2="491.24" y2="4.600" stroke="#bdcbe7" stroke-width="1" stroke-dasharray="2 2.15"/>
<line x1="491.24" y1="4.600" x2="491.24" y2="27.530" stroke="#bdcbe7" stroke-width="1" stroke-dasharray="2 2.15"/>
<line x1="491.24" y1="27.530" x2="491.24" y2="50.460" stroke="#bdcbe7" stroke-width="1" stroke-dasharray="2 2.15"/>
<line x1="491.24" y1="50.460" x2="491.24" y2="73.390" stroke="#bdcbe7" stroke-width="1" stroke-dasharray="2 2.15"/>
<line x1="491.24" y1="73.390" x2="491.24" y2="96.320" stroke="#bdcbe7" stroke-width="1" stroke-dasharray="2 2.15"/>
<line x1="491.24" y1="96.320" x2="491.24" y2="119.250" stroke="#bdcbe7" stroke-width="1" stroke-dasharray="2 2.15"/>
<line x1="491.24" y1="119.250" x2="491.24" y2="142.180" stroke="#bdcbe7" stroke-width="1" stroke-dasharray="2 2.15"/>
<line x1="491.24" y1="142.180" x2="491.24" y2="165.110" stroke="#bdcbe7" stroke-width="1" stroke-dasharray="2 2.15"/>
<line x1="491.24" y1="165.110" x2="491.24" y2="188.040" stroke="#bdcbe7" stroke-width="1" stroke-dasharray="2 2.15"/>
<line x1="491.24" y1="188.040" x2="491.24" y2="210.970" stroke="#bdcbe7" stroke-width="1" stroke-dasharray="2 2.15"/>
<line x1="491.24" y1="210.970" x2="491.24" y2="233.900" stroke="#bdcbe7" stroke-width="1" stroke-dasharray="2 2.15"/>
<line x1="491.24" y1="233.900" x2="491.24" y2="256.830" stroke="#bdcbe7" stroke-width="1" stroke-dasharray="2 2.15"/>
<line x1="491.24" y1="256.830" x2="491.24" y2="279.760" stroke="#bdcbe7" stroke-width="1" stroke-dasharray="2 2.15"/>
<line x1="491.24" y1="279.760" x2="491.24" y2="302.690" stroke="#bdcbe7" stroke-width="1" stroke-dasharray="2 2.15"/>
<line x1="491.24" y1="302.690" x2="491.24" y2="325.620" stroke="#bdcbe7" stroke-width="1" stroke-dasharray="2 2.15"/>
<line x1="491.24" y1="325.620" x2="491.24" y2="348.550" stroke="#bdcbe7" stroke-width="1" stroke-dasharray="2 2.15"/>
<line x1="491.24" y1="348.550" x2="491.24" y2="371.480" stroke="#bdcbe7" stroke-width="1" stroke-dasharray="2 2.15"/>
<line x1="491.24" y1="371.480" x2="491.24" y2="394.410" stroke="#bdcbe7" stroke-width="1" stroke-dasharray="2 2.15"/>
<line x1="491.24" y1="394.410" x2="491.24" y2="417.340" stroke="#bdcbe7" stroke-width="1" stroke-dasharray="2 2.15"/>
<line x1="491.24" y1="417.340" x2="491.24" y2="440.270" stroke="#bdcbe7" stroke-width="1" stroke-dasharray="2 2.15"/>
<line x1="491.24" y1="440.270" x2="491.24" y2="443.000" stroke="#bdcbe7" stroke-width="1" stroke-dasharray="2 2.15"/>
<line x1="491.24" y1="442.550" x2="491.24" y2="498" stroke="#bdcbe7" stroke-width="1" stroke-dasharray="2 2.15"/>
<line x1="491.24" y1="496.600" x2="491.24" y2="553" stroke="#bdcbe7" stroke-width="1" stroke-dasharray="2 2.15"/>
<line x1="491.24" y1="551.050" x2="491.24" y2="607" stroke="#bdcbe7" stroke-width="1" stroke-dasharray="2 2.15"/>
<line x1="513.46" y1="0.450" x2="513.46" y2="4.600" stroke="#bdcbe7" stroke-width="1" stroke-dasharray="2 2.15"/>
<line x1="513.46" y1="4.600" x2="513.46" y2="27.530" stroke="#bdcbe7" stroke-width="1" stroke-dasharray="2 2.15"/>
<line x1="513.46" y1="27.530" x2="513.46" y2="50.460" stroke="#bdcbe7" stroke-width="1" stroke-dasharray="2 2.15"/>
<line x1="513.46" y1="50.460" x2="513.46" y2="73.390" stroke="#bdcbe7" stroke-width="1" stroke-dasharray="2 2.15"/>
<line x1="513.46" y1="73.390" x2="513.46" y2="96.320" stroke="#bdcbe7" stroke-width="1" stroke-dasharray="2 2.15"/>
<line x1="513.46" y1="96.320" x2="513.46" y2="119.250" stroke="#bdcbe7" stroke-width="1" stroke-dasharray="2 2.15"/>
<line x1="513.46" y1="119.250" x2="513.46" y2="142.180" stroke="#bdcbe7" stroke-width="1" stroke-dasharray="2 2.15"/>
<line x1="513.46" y1="142.180" x2="513.46" y2="165.110" stroke="#bdcbe7" stroke-width="1" stroke-dasharray="2 2.15"/>
<line x1="513.46" y1="165.110" x2="513.46" y2="188.040" stroke="#bdcbe7" stroke-width="1" stroke-dasharray="2 2.15"/>
<line x1="513.46" y1="188.040" x2="513.46" y2="210.970" stroke="#bdcbe7" stroke-width="1" stroke-dasharray="2 2.15"/>
<line x1="513.46" y1="210.970" x2="513.46" y2="233.900" stroke="#bdcbe7" stroke-width="1" stroke-dasharray="2 2.15"/>
<line x1="513.46" y1="233.900" x2="513.46" y2="256.830" stroke="#bdcbe7" stroke-width="1" stroke-dasharray="2 2.15"/>
<line x1="513.46" y1="256.830" x2="513.46" y2="279.760" stroke="#bdcbe7" stroke-width="1" stroke-dasharray="2 2.15"/>
<line x1="513.46" y1="279.760" x2="513.46" y2="302.690" stroke="#bdcbe7" stroke-width="1" stroke-dasharray="2 2.15"/>
<line x1="513.46" y1="302.690" x2="513.46" y2="325.620" stroke="#bdcbe7" stroke-width="1" stroke-dasharray="2 2.15"/>
<line x1="513.46" y1="325.620" x2="513.46" y2="348.550" stroke="#bdcbe7" stroke-width="1" stroke-dasharray="2 2.15"/>
<line x1="513.46" y1="348.550" x2="513.46" y2="371.480" stroke="#bdcbe7" stroke-width="1" stroke-dasharray="2 2.15"/>
<line x1="513.46" y1="371.480" x2="513.46" y2="394.410" stroke="#bdcbe7" stroke-width="1" stroke-dasharray="2 2.15"/>
<line x1="513.46" y1="394.410" x2="513.46" y2="417.340" stroke="#bdcbe7" stroke-width="1" stroke-dasharray="2 2.15"/>
<line x1="513.46" y1="417.340" x2="513.46" y2="440.270" stroke="#bdcbe7" stroke-width="1" stroke-dasharray="2 2.15"/>
<line x1="513.46" y1="440.270" x2="513.46" y2="443.000" stroke="#bdcbe7" stroke-width="1" stroke-dasharray="2 2.15"/>
<line x1="513.46" y1="442.550" x2="513.46" y2="498" stroke="#bdcbe7" stroke-width="1" stroke-dasharray="2 2.15"/>
<line x1="513.46" y1="496.600" x2="513.46" y2="553" stroke="#bdcbe7" stroke-width="1" stroke-dasharray="2 2.15"/>
<line x1="513.46" y1="551.050" x2="513.46" y2="607" stroke="#bdcbe7" stroke-width="1" stroke-dasharray="2 2.15"/>
<line x1="535.68" y1="0.450" x2="535.68" y2="4.600" stroke="#bdcbe7" stroke-width="1" stroke-dasharray="2 2.15"/>
<line x1="535.68" y1="4.600" x2="535.68" y2="27.530" stroke="#bdcbe7" stroke-width="1" stroke-dasharray="2 2.15"/>
<line x1="535.68" y1="27.530" x2="535.68" y2="50.460" stroke="#bdcbe7" stroke-width="1" stroke-dasharray="2 2.15"/>
<line x1="535.68" y1="50.460" x2="535.68" y2="73.390" stroke="#bdcbe7" stroke-width="1" stroke-dasharray="2 2.15"/>
<line x1="535.68" y1="73.390" x2="535.68" y2="96.320" stroke="#bdcbe7" stroke-width="1" stroke-dasharray="2 2.15"/>
<line x1="535.68" y1="96.320" x2="535.68" y2="119.250" stroke="#bdcbe7" stroke-width="1" stroke-dasharray="2 2.15"/>
<line x1="535.68" y1="119.250" x2="535.68" y2="142.180" stroke="#bdcbe7" stroke-width="1" stroke-dasharray="2 2.15"/>
<line x1="535.68" y1="142.180" x2="535.68" y2="165.110" stroke="#bdcbe7" stroke-width="1" stroke-dasharray="2 2.15"/>
<line x1="535.68" y1="165.110" x2="535.68" y2="188.040" stroke="#bdcbe7" stroke-width="1" stroke-dasharray="2 2.15"/>
<line x1="535.68" y1="188.040" x2="535.68" y2="210.970" stroke="#bdcbe7" stroke-width="1" stroke-dasharray="2 2.15"/>
<line x1="535.68" y1="210.970" x2="535.68" y2="233.900" stroke="#bdcbe7" stroke-width="1" stroke-dasharray="2 2.15"/>
<line x1="535.68" y1="233.900" x2="535.68" y2="256.830" stroke="#bdcbe7" stroke-width="1" stroke-dasharray="2 2.15"/>
<line x1="535.68" y1="256.830" x2="535.68" y2="279.760" stroke="#bdcbe7" stroke-width="1" stroke-dasharray="2 2.15"/>
<line x1="535.68" y1="279.760" x2="535.68" y2="302.690" stroke="#bdcbe7" stroke-width="1" stroke-dasharray="2 2.15"/>
<line x1="535.68" y1="302.690" x2="535.68" y2="325.620" stroke="#bdcbe7" stroke-width="1" stroke-dasharray="2 2.15"/>
<line x1="535.68" y1="325.620" x2="535.68" y2="348.550" stroke="#bdcbe7" stroke-width="1" stroke-dasharray="2 2.15"/>
<line x1="535.68" y1="348.550" x2="535.68" y2="371.480" stroke="#bdcbe7" stroke-width="1" stroke-dasharray="2 2.15"/>
<line x1="535.68" y1="371.480" x2="535.68" y2="394.410" stroke="#bdcbe7" stroke-width="1" stroke-dasharray="2 2.15"/>
<line x1="535.68" y1="394.410" x2="535.68" y2="417.340" stroke="#bdcbe7" stroke-width="1" stroke-dasharray="2 2.15"/>
<line x1="535.68" y1="417.340" x2="535.68" y2="440.270" stroke="#bdcbe7" stroke-width="1" stroke-dasharray="2 2.15"/>
<line x1="535.68" y1="440.270" x2="535.68" y2="443.000" stroke="#bdcbe7" stroke-width="1" stroke-dasharray="2 2.15"/>
<line x1="535.68" y1="442.550" x2="535.68" y2="498" stroke="#bdcbe7" stroke-width="1" stroke-dasharray="2 2.15"/>
<line x1="535.68" y1="496.600" x2="535.68" y2="553" stroke="#bdcbe7" stroke-width="1" stroke-dasharray="2 2.15"/>
<line x1="535.68" y1="551.050" x2="535.68" y2="607" stroke="#bdcbe7" stroke-width="1" stroke-dasharray="2 2.15"/>
<line x1="557.90" y1="0.450" x2="557.90" y2="4.600" stroke="#bdcbe7" stroke-width="1" stroke-dasharray="2 2.15"/>
<line x1="557.90" y1="4.600" x2="557.90" y2="27.530" stroke="#bdcbe7" stroke-width="1" stroke-dasharray="2 2.15"/>
<line x1="557.90" y1="27.530" x2="557.90" y2="50.460" stroke="#bdcbe7" stroke-width="1" stroke-dasharray="2 2.15"/>
<line x1="557.90" y1="50.460" x2="557.90" y2="73.390" stroke="#bdcbe7" stroke-width="1" stroke-dasharray="2 2.15"/>
<line x1="557.90" y1="73.390" x2="557.90" y2="96.320" stroke="#bdcbe7" stroke-width="1" stroke-dasharray="2 2.15"/>
<line x1="557.90" y1="96.320" x2="557.90" y2="119.250" stroke="#bdcbe7" stroke-width="1" stroke-dasharray="2 2.15"/>
<line x1="557.90" y1="119.250" x2="557.90" y2="142.180" stroke="#bdcbe7" stroke-width="1" stroke-dasharray="2 2.15"/>
<line x1="557.90" y1="142.180" x2="557.90" y2="165.110" stroke="#bdcbe7" stroke-width="1" stroke-dasharray="2 2.15"/>
<line x1="557.90" y1="165.110" x2="557.90" y2="188.040" stroke="#bdcbe7" stroke-width="1" stroke-dasharray="2 2.15"/>
<line x1="557.90" y1="188.040" x2="557.90" y2="210.970" stroke="#bdcbe7" stroke-width="1" stroke-dasharray="2 2.15"/>
<line x1="557.90" y1="210.970" x2="557.90" y2="233.900" stroke="#bdcbe7" stroke-width="1" stroke-dasharray="2 2.15"/>
<line x1="557.90" y1="233.900" x2="557.90" y2="256.830" stroke="#bdcbe7" stroke-width="1" stroke-dasharray="2 2.15"/>
<line x1="557.90" y1="256.830" x2="557.90" y2="279.760" stroke="#bdcbe7" stroke-width="1" stroke-dasharray="2 2.15"/>
<line x1="557.90" y1="279.760" x2="557.90" y2="302.690" stroke="#bdcbe7" stroke-width="1" stroke-dasharray="2 2.15"/>
<line x1="557.90" y1="302.690" x2="557.90" y2="325.620" stroke="#bdcbe7" stroke-width="1" stroke-dasharray="2 2.15"/>
<line x1="557.90" y1="325.620" x2="557.90" y2="348.550" stroke="#bdcbe7" stroke-width="1" stroke-dasharray="2 2.15"/>
<line x1="557.90" y1="348.550" x2="557.90" y2="371.480" stroke="#bdcbe7" stroke-width="1" stroke-dasharray="2 2.15"/>
<line x1="557.90" y1="371.480" x2="557.90" y2="394.410" stroke="#bdcbe7" stroke-width="1" stroke-dasharray="2 2.15"/>
<line x1="557.90" y1="394.410" x2="557.90" y2="417.340" stroke="#bdcbe7" stroke-width="1" stroke-dasharray="2 2.15"/>
<line x1="557.90" y1="417.340" x2="557.90" y2="440.270" stroke="#bdcbe7" stroke-width="1" stroke-dasharray="2 2.15"/>
<line x1="557.90" y1="440.270" x2="557.90" y2="443.000" stroke="#bdcbe7" stroke-width="1" stroke-dasharray="2 2.15"/>
<line x1="557.90" y1="442.550" x2="557.90" y2="498" stroke="#bdcbe7" stroke-width="1" stroke-dasharray="2 2.15"/>
<line x1="557.90" y1="496.600" x2="557.90" y2="553" stroke="#bdcbe7" stroke-width="1" stroke-dasharray="2 2.15"/>
<line x1="557.90" y1="551.050" x2="557.90" y2="607" stroke="#bdcbe7" stroke-width="1" stroke-dasharray="2 2.15"/>
<line x1="0.125" y1="5.60" x2="566" y2="5.60" stroke="#bdcbe7" stroke-width="1" stroke-dasharray="2.1 2.065"/>
<line x1="0.125" y1="28.53" x2="566" y2="28.53" stroke="#bdcbe7" stroke-width="1" stroke-dasharray="2.1 2.065"/>
<line x1="0.125" y1="51.46" x2="566" y2="51.46" stroke="#bdcbe7" stroke-width="1" stroke-dasharray="2.1 2.065"/>
<line x1="0.125" y1="74.39" x2="566" y2="74.39" stroke="#bdcbe7" stroke-width="1" stroke-dasharray="2.1 2.065"/>
<line x1="0.125" y1="97.32" x2="566" y2="97.32" stroke="#bdcbe7" stroke-width="1" stroke-dasharray="2.1 2.065"/>
<line x1="0.125" y1="120.25" x2="566" y2="120.25" stroke="#bdcbe7" stroke-width="1" stroke-dasharray="2.1 2.065"/>
<line x1="0.125" y1="143.18" x2="566" y2="143.18" stroke="#bdcbe7" stroke-width="1" stroke-dasharray="2.1 2.065"/>
<line x1="0.125" y1="166.11" x2="566" y2="166.11" stroke="#bdcbe7" stroke-width="1" stroke-dasharray="2.1 2.065"/>
<line x1="0.125" y1="189.04" x2="566" y2="189.04" stroke="#bdcbe7" stroke-width="1" stroke-dasharray="2.1 2.065"/>
<line x1="0.125" y1="211.97" x2="566" y2="211.97" stroke="#bdcbe7" stroke-width="1" stroke-dasharray="2.1 2.065"/>
<line x1="0.125" y1="234.90" x2="566" y2="234.90" stroke="#bdcbe7" stroke-width="1" stroke-dasharray="2.1 2.065"/>
<line x1="0.125" y1="257.83" x2="566" y2="257.83" stroke="#bdcbe7" stroke-width="1" stroke-dasharray="2.1 2.065"/>
<line x1="0.125" y1="280.76" x2="566" y2="280.76" stroke="#bdcbe7" stroke-width="1" stroke-dasharray="2.1 2.065"/>
<line x1="0.125" y1="303.69" x2="566" y2="303.69" stroke="#bdcbe7" stroke-width="1" stroke-dasharray="2.1 2.065"/>
<line x1="0.125" y1="326.62" x2="566" y2="326.62" stroke="#bdcbe7" stroke-width="1" stroke-dasharray="2.1 2.065"/>
<line x1="0.125" y1="349.55" x2="566" y2="349.55" stroke="#bdcbe7" stroke-width="1" stroke-dasharray="2.1 2.065"/>
<line x1="0.125" y1="372.48" x2="566" y2="372.48" stroke="#bdcbe7" stroke-width="1" stroke-dasharray="2.1 2.065"/>
<line x1="0.125" y1="395.41" x2="566" y2="395.41" stroke="#bdcbe7" stroke-width="1" stroke-dasharray="2.1 2.065"/>
<line x1="0.125" y1="418.34" x2="566" y2="418.34" stroke="#bdcbe7" stroke-width="1" stroke-dasharray="2.1 2.065"/>
<line x1="0.125" y1="441.27" x2="566" y2="441.27" stroke="#bdcbe7" stroke-width="1" stroke-dasharray="2.1 2.065"/>
<line x1="0.125" y1="473.3" x2="566" y2="473.3" stroke="#bdcbe7" stroke-width="1" stroke-dasharray="2.1 2.065"/>
<line x1="0.125" y1="552.4" x2="566" y2="552.4" stroke="#bdcbe7" stroke-width="1" stroke-dasharray="2.1 2.065"/>
<line x1="0.125" y1="606.3" x2="566" y2="606.3" stroke="#bdcbe7" stroke-width="1" stroke-dasharray="2.1 2.065"/>
<line x1="0" y1="516.3" x2="566" y2="516.3" stroke="#bdbdbd" stroke-width="1" stroke-dasharray="2,2.1"/>
<line x1="0" y1="537.1" x2="566" y2="537.1" stroke="#bdbdbd" stroke-width="1" stroke-dasharray="2,2.1"/>
<line x1="0" y1="565.3" x2="566" y2="565.3" stroke="#bdbdbd" stroke-width="1" stroke-dasharray="2,2.1"/>
<line x1="0" y1="596.6" x2="566" y2="596.6" stroke="#bdbdbd" stroke-width="1" stroke-dasharray="2,2.1"/>
<line x1="0" y1="201.1" x2="566" y2="201.1" stroke="#cbd5e6" stroke-width="1.5"/>
<polyline points="0.0,235.5 3.0,236.5 24.0,236.6 28.0,236.0 35.0,234.8 42.0,233.8 47.0,232.3 55.0,230.3 60.0,228.3 66.7,226.3 80.0,223.5 100.0,221.0 120.0,218.3 140.0,216.3 152.0,214.6 160.0,213.5 168.0,211.4 180.0,206.8 190.0,204.3 201.7,202.0 211.7,199.4 221.7,197.9 240.0,197.4 250.0,196.7 262.4,195.9 277.0,194.8 285.6,194.9 296.8,194.2 313.6,193.7 324.8,193.1" fill="none" stroke="#0a8a0a" stroke-width="1.35" stroke-linejoin="round"/>
<polyline points="0.0,227.3 13.3,225.3 24.0,224.7 33.3,223.3 46.7,220.9 62.7,218.7 80.0,214.6 92.0,212.0 102.0,210.4 114.0,208.0 124.0,206.4 136.0,203.0 146.0,201.0 156.0,198.0 166.0,193.5 180.0,187.5 193.3,180.8 203.3,177.5 210.0,175.0 220.0,170.8 230.0,169.2 243.3,167.5 256.8,165.1 269.1,163.6 291.2,164.0 297.9,164.6 308.0,165.7 317.0,166.2 324.8,166.8" fill="none" stroke="#3296f5" stroke-width="1.35" stroke-linejoin="round"/>
<polyline points="0.0,228.7 5.3,223.3 13.3,218.7 20.0,216.0 24.0,213.2 28.0,209.6 32.0,207.0 40.0,202.0 46.7,198.7 60.0,193.3 69.3,189.3 80.0,183.5 96.3,176.3 108.8,172.8 125.0,172.8 145.0,172.5 156.0,173.0 162.0,171.8 166.0,169.5 172.0,167.0 180.0,162.5 190.0,156.7 200.0,153.3 208.3,150.0 216.7,145.0 223.3,144.6 230.0,146.5 236.0,147.6 240.0,148.4 256.0,148.6 260.0,149.5 263.5,150.2 277.0,153.4 286.7,157.8 292.3,161.2 298.5,166.2 305.8,171.8 313.6,176.0 319.2,178.6 324.8,183.0" fill="none" stroke="#ff1a1a" stroke-width="1.6" stroke-linejoin="round"/>
<line x1="0" y1="140.2" x2="566" y2="140.2" stroke="#108a10" stroke-width="1.75"/>
<line x1="0" y1="158.3" x2="566" y2="158.3" stroke="#108a10" stroke-width="1.75"/>
<line x1="0" y1="176.4" x2="566" y2="176.4" stroke="#108a10" stroke-width="1.75"/>
<line x1="0" y1="224.8" x2="566" y2="224.8" stroke="#ff2a2a" stroke-width="1.85"/>
<line x1="0" y1="243.0" x2="566" y2="243.0" stroke="#ff2a2a" stroke-width="1.85"/>
<line x1="0" y1="260.8" x2="566" y2="260.8" stroke="#ff2a2a" stroke-width="1.85"/>
<line x1="2.40" y1="176" x2="2.40" y2="194.7" stroke="#2a2a2a" stroke-width="0.85"/>
<rect x="1.00" y="176.85" width="2.8" height="17.50" fill="#3cb371" stroke="#1a1a1a" stroke-width="0.7"/>
<line x1="7.96" y1="173.5" x2="7.96" y2="187.4" stroke="#2a2a2a" stroke-width="0.85"/>
<line x1="6.21" y1="177.20" x2="9.71" y2="177.20" stroke="#1a1a1a" stroke-width="1"/>
<line x1="13.51" y1="177" x2="13.51" y2="189.4" stroke="#2a2a2a" stroke-width="0.85"/>
<rect x="12.11" y="177.35" width="2.8" height="7.90" fill="#ff0000" stroke="#1a1a1a" stroke-width="0.7"/>
<line x1="19.06" y1="177" x2="19.06" y2="190" stroke="#2a2a2a" stroke-width="0.85"/>
<rect x="17.66" y="181.65" width="2.8" height="3.60" fill="#3cb371" stroke="#1a1a1a" stroke-width="0.7"/>
<line x1="24.62" y1="164.5" x2="24.62" y2="184.6" stroke="#2a2a2a" stroke-width="0.85"/>
<rect x="23.22" y="167.75" width="2.8" height="13.60" fill="#3cb371" stroke="#1a1a1a" stroke-width="0.7"/>
<line x1="30.17" y1="160" x2="30.17" y2="173.6" stroke="#2a2a2a" stroke-width="0.85"/>
<rect x="28.77" y="162.35" width="2.8" height="5.10" fill="#3cb371" stroke="#1a1a1a" stroke-width="0.7"/>
<line x1="35.73" y1="151" x2="35.73" y2="162.3" stroke="#2a2a2a" stroke-width="0.85"/>
<rect x="34.33" y="155.75" width="2.8" height="6.20" fill="#3cb371" stroke="#1a1a1a" stroke-width="0.7"/>
<line x1="41.28" y1="155" x2="41.28" y2="183.2" stroke="#2a2a2a" stroke-width="0.85"/>
<rect x="39.88" y="155.75" width="2.8" height="19.90" fill="#ff0000" stroke="#1a1a1a" stroke-width="0.7"/>
<line x1="46.84" y1="171.2" x2="46.84" y2="179.3" stroke="#2a2a2a" stroke-width="0.85"/>
<rect x="45.44" y="172.45" width="2.8" height="2.70" fill="#3cb371" stroke="#1a1a1a" stroke-width="0.7"/>
<line x1="52.39" y1="171.2" x2="52.39" y2="177.9" stroke="#2a2a2a" stroke-width="0.85"/>
<rect x="50.99" y="173.25" width="2.8" height="1.10" fill="#ff0000" stroke="#1a1a1a" stroke-width="0.7"/>
<line x1="57.95" y1="174" x2="57.95" y2="198" stroke="#2a2a2a" stroke-width="0.85"/>
<rect x="56.55" y="174.75" width="2.8" height="6.40" fill="#ff0000" stroke="#1a1a1a" stroke-width="0.7"/>
<line x1="63.50" y1="177" x2="63.50" y2="187" stroke="#2a2a2a" stroke-width="0.85"/>
<line x1="61.75" y1="181.30" x2="65.25" y2="181.30" stroke="#1a1a1a" stroke-width="1"/>
<line x1="69.06" y1="174" x2="69.06" y2="188.5" stroke="#2a2a2a" stroke-width="0.85"/>
<rect x="67.66" y="181.15" width="2.8" height="1.40" fill="#ff0000" stroke="#1a1a1a" stroke-width="0.7"/>
<line x1="74.62" y1="167.8" x2="74.62" y2="185.1" stroke="#2a2a2a" stroke-width="0.85"/>
<rect x="73.22" y="172.05" width="2.8" height="10.30" fill="#3cb371" stroke="#1a1a1a" stroke-width="0.7"/>
<line x1="80.17" y1="163" x2="80.17" y2="174.5" stroke="#2a2a2a" stroke-width="0.85"/>
<line x1="78.42" y1="171.40" x2="81.92" y2="171.40" stroke="#1a1a1a" stroke-width="1"/>
<line x1="85.72" y1="167.4" x2="85.72" y2="179.3" stroke="#2a2a2a" stroke-width="0.85"/>
<line x1="83.97" y1="171.20" x2="87.47" y2="171.20" stroke="#1a1a1a" stroke-width="1"/>
<line x1="91.28" y1="165.4" x2="91.28" y2="176.5" stroke="#2a2a2a" stroke-width="0.85"/>
<rect x="89.88" y="168.45" width="2.8" height="3.80" fill="#3cb371" stroke="#1a1a1a" stroke-width="0.7"/>
<line x1="96.84" y1="161.1" x2="96.84" y2="169.3" stroke="#2a2a2a" stroke-width="0.85"/>
<rect x="95.44" y="165.75" width="2.8" height="2.50" fill="#3cb371" stroke="#1a1a1a" stroke-width="0.7"/>
<line x1="102.39" y1="165" x2="102.39" y2="183.2" stroke="#2a2a2a" stroke-width="0.85"/>
<rect x="100.99" y="165.75" width="2.8" height="11.80" fill="#ff0000" stroke="#1a1a1a" stroke-width="0.7"/>
<line x1="107.94" y1="167" x2="107.94" y2="180.2" stroke="#2a2a2a" stroke-width="0.85"/>
<rect x="106.54" y="169.35" width="2.8" height="8.80" fill="#3cb371" stroke="#1a1a1a" stroke-width="0.7"/>
<line x1="113.50" y1="164" x2="113.50" y2="171.7" stroke="#2a2a2a" stroke-width="0.85"/>
<rect x="112.10" y="169.35" width="2.8" height="1.50" fill="#ff0000" stroke="#1a1a1a" stroke-width="0.7"/>
<line x1="119.06" y1="169" x2="119.06" y2="177.5" stroke="#2a2a2a" stroke-width="0.85"/>
<rect x="117.66" y="170.35" width="2.8" height="6.80" fill="#ff0000" stroke="#1a1a1a" stroke-width="0.7"/>
<line x1="124.61" y1="169" x2="124.61" y2="187.5" stroke="#2a2a2a" stroke-width="0.85"/>
<rect x="123.21" y="171.85" width="2.8" height="5.30" fill="#3cb371" stroke="#1a1a1a" stroke-width="0.7"/>
<line x1="130.16" y1="168" x2="130.16" y2="178.5" stroke="#2a2a2a" stroke-width="0.85"/>
<rect x="128.76" y="170.55" width="2.8" height="0.70" fill="#ff0000" stroke="#1a1a1a" stroke-width="0.7"/>
<line x1="135.72" y1="166" x2="135.72" y2="173.7" stroke="#2a2a2a" stroke-width="0.85"/>
<rect x="134.32" y="170.85" width="2.8" height="0.50" fill="#ff0000" stroke="#1a1a1a" stroke-width="0.7"/>
<line x1="141.28" y1="166.5" x2="141.28" y2="176" stroke="#2a2a2a" stroke-width="0.85"/>
<line x1="139.53" y1="171.50" x2="143.03" y2="171.50" stroke="#1a1a1a" stroke-width="1"/>
<line x1="146.83" y1="166" x2="146.83" y2="173.5" stroke="#2a2a2a" stroke-width="0.85"/>
<rect x="145.43" y="171.85" width="2.8" height="1.30" fill="#ff0000" stroke="#1a1a1a" stroke-width="0.7"/>
<line x1="152.38" y1="171" x2="152.38" y2="176" stroke="#2a2a2a" stroke-width="0.85"/>
<rect x="150.98" y="171.55" width="2.8" height="1.50" fill="#3cb371" stroke="#1a1a1a" stroke-width="0.7"/>
<line x1="157.94" y1="152" x2="157.94" y2="171.5" stroke="#2a2a2a" stroke-width="0.85"/>
<rect x="156.54" y="155.65" width="2.8" height="15.50" fill="#3cb371" stroke="#1a1a1a" stroke-width="0.7"/>
<line x1="163.50" y1="149.2" x2="163.50" y2="160.7" stroke="#2a2a2a" stroke-width="0.85"/>
<rect x="162.09" y="152.25" width="2.8" height="1.60" fill="#3cb371" stroke="#1a1a1a" stroke-width="0.7"/>
<line x1="169.05" y1="143" x2="169.05" y2="151.6" stroke="#2a2a2a" stroke-width="0.85"/>
<rect x="167.65" y="143.35" width="2.8" height="7.90" fill="#3cb371" stroke="#1a1a1a" stroke-width="0.7"/>
<line x1="174.60" y1="108.9" x2="174.60" y2="132.9" stroke="#2a2a2a" stroke-width="0.85"/>
<rect x="173.20" y="110.25" width="2.8" height="17.50" fill="#3cb371" stroke="#1a1a1a" stroke-width="0.7"/>
<line x1="180.16" y1="110.5" x2="180.16" y2="135.8" stroke="#2a2a2a" stroke-width="0.85"/>
<rect x="178.76" y="110.85" width="2.8" height="5.70" fill="#ff0000" stroke="#1a1a1a" stroke-width="0.7"/>
<line x1="185.72" y1="100.6" x2="185.72" y2="124.6" stroke="#2a2a2a" stroke-width="0.85"/>
<rect x="184.31" y="104.45" width="2.8" height="12.10" fill="#3cb371" stroke="#1a1a1a" stroke-width="0.7"/>
<line x1="191.27" y1="101.2" x2="191.27" y2="114.7" stroke="#2a2a2a" stroke-width="0.85"/>
<rect x="189.87" y="104.45" width="2.8" height="6.70" fill="#ff0000" stroke="#1a1a1a" stroke-width="0.7"/>
<line x1="196.82" y1="101.2" x2="196.82" y2="135.2" stroke="#2a2a2a" stroke-width="0.85"/>
<rect x="195.42" y="111.45" width="2.8" height="20.80" fill="#ff0000" stroke="#1a1a1a" stroke-width="0.7"/>
<line x1="202.38" y1="126.2" x2="202.38" y2="148.7" stroke="#2a2a2a" stroke-width="0.85"/>
<rect x="200.98" y="128.45" width="2.8" height="3.60" fill="#3cb371" stroke="#1a1a1a" stroke-width="0.7"/>
<line x1="207.94" y1="123" x2="207.94" y2="130" stroke="#2a2a2a" stroke-width="0.85"/>
<rect x="206.53" y="123.35" width="2.8" height="4.40" fill="#3cb371" stroke="#1a1a1a" stroke-width="0.7"/>
<line x1="213.49" y1="112.3" x2="213.49" y2="127.6" stroke="#2a2a2a" stroke-width="0.85"/>
<rect x="212.09" y="117.45" width="2.8" height="5.50" fill="#3cb371" stroke="#1a1a1a" stroke-width="0.7"/>
<line x1="219.04" y1="114.2" x2="219.04" y2="143" stroke="#2a2a2a" stroke-width="0.85"/>
<rect x="217.64" y="117.45" width="2.8" height="10.80" fill="#ff0000" stroke="#1a1a1a" stroke-width="0.7"/>
<line x1="224.60" y1="125.7" x2="224.60" y2="203.5" stroke="#2a2a2a" stroke-width="0.85"/>
<rect x="223.20" y="129.35" width="2.8" height="53.60" fill="#ff0000" stroke="#1a1a1a" stroke-width="0.7"/>
<line x1="230.16" y1="158.8" x2="230.16" y2="227.6" stroke="#2a2a2a" stroke-width="0.85"/>
<rect x="228.75" y="183.65" width="2.8" height="13.60" fill="#ff0000" stroke="#1a1a1a" stroke-width="0.7"/>
<line x1="235.71" y1="182" x2="235.71" y2="207.1" stroke="#2a2a2a" stroke-width="0.85"/>
<rect x="234.31" y="192.75" width="2.8" height="4.50" fill="#3cb371" stroke="#1a1a1a" stroke-width="0.7"/>
<line x1="241.26" y1="187" x2="241.26" y2="201.6" stroke="#2a2a2a" stroke-width="0.85"/>
<rect x="239.86" y="189.45" width="2.8" height="2.60" fill="#3cb371" stroke="#1a1a1a" stroke-width="0.7"/>
<line x1="246.82" y1="169.6" x2="246.82" y2="194.8" stroke="#2a2a2a" stroke-width="0.85"/>
<rect x="245.42" y="174.45" width="2.8" height="14.40" fill="#3cb371" stroke="#1a1a1a" stroke-width="0.7"/>
<line x1="252.38" y1="172.4" x2="252.38" y2="192" stroke="#2a2a2a" stroke-width="0.85"/>
<rect x="250.97" y="174.95" width="2.8" height="0.70" fill="#ff0000" stroke="#1a1a1a" stroke-width="0.7"/>
<line x1="257.93" y1="166.8" x2="257.93" y2="182.5" stroke="#2a2a2a" stroke-width="0.85"/>
<rect x="256.53" y="169.35" width="2.8" height="6.60" fill="#3cb371" stroke="#1a1a1a" stroke-width="0.7"/>
<line x1="263.48" y1="166.2" x2="263.48" y2="187" stroke="#2a2a2a" stroke-width="0.85"/>
<rect x="262.08" y="169.35" width="2.8" height="10.80" fill="#ff0000" stroke="#1a1a1a" stroke-width="0.7"/>
<line x1="269.04" y1="178.6" x2="269.04" y2="193.7" stroke="#2a2a2a" stroke-width="0.85"/>
<rect x="267.64" y="181.15" width="2.8" height="3.20" fill="#ff0000" stroke="#1a1a1a" stroke-width="0.7"/>
<line x1="274.59" y1="176.9" x2="274.59" y2="189.8" stroke="#2a2a2a" stroke-width="0.85"/>
<rect x="273.19" y="177.25" width="2.8" height="7.30" fill="#3cb371" stroke="#1a1a1a" stroke-width="0.7"/>
<line x1="280.15" y1="167.9" x2="280.15" y2="178.6" stroke="#2a2a2a" stroke-width="0.85"/>
<rect x="278.75" y="172.75" width="2.8" height="3.90" fill="#3cb371" stroke="#1a1a1a" stroke-width="0.7"/>
<line x1="285.70" y1="170.2" x2="285.70" y2="190.3" stroke="#2a2a2a" stroke-width="0.85"/>
<rect x="284.31" y="173.35" width="2.8" height="3.20" fill="#ff0000" stroke="#1a1a1a" stroke-width="0.7"/>
<line x1="291.26" y1="171.8" x2="291.26" y2="185.8" stroke="#2a2a2a" stroke-width="0.85"/>
<line x1="289.51" y1="176.90" x2="293.01" y2="176.90" stroke="#1a1a1a" stroke-width="1"/>
<line x1="296.81" y1="175.2" x2="296.81" y2="207.7" stroke="#2a2a2a" stroke-width="0.85"/>
<rect x="295.41" y="177.25" width="2.8" height="17.20" fill="#ff0000" stroke="#1a1a1a" stroke-width="0.7"/>
<line x1="302.37" y1="195.4" x2="302.37" y2="211.6" stroke="#2a2a2a" stroke-width="0.85"/>
<rect x="300.97" y="195.75" width="2.8" height="9.90" fill="#ff0000" stroke="#1a1a1a" stroke-width="0.7"/>
<line x1="307.92" y1="195.9" x2="307.92" y2="207.7" stroke="#2a2a2a" stroke-width="0.85"/>
<rect x="306.52" y="201.35" width="2.8" height="4.90" fill="#3cb371" stroke="#1a1a1a" stroke-width="0.7"/>
<line x1="313.48" y1="183" x2="313.48" y2="206.6" stroke="#2a2a2a" stroke-width="0.85"/>
<rect x="312.08" y="187.35" width="2.8" height="13.30" fill="#3cb371" stroke="#1a1a1a" stroke-width="0.7"/>
<line x1="319.03" y1="185.6" x2="319.03" y2="194.2" stroke="#2a2a2a" stroke-width="0.85"/>
<rect x="317.63" y="187.35" width="2.8" height="2.60" fill="#ff0000" stroke="#1a1a1a" stroke-width="0.7"/>
<line x1="324.59" y1="190.3" x2="324.59" y2="203.8" stroke="#2a2a2a" stroke-width="0.85"/>
<rect x="323.19" y="190.65" width="2.8" height="10.00" fill="#ff0000" stroke="#1a1a1a" stroke-width="0.7"/>
<g font-family="'Liberation Sans', Arial, sans-serif" font-size="10.6" stroke-width="0.2">
<text x="515.3" y="151.4" fill="#1f8a1f" stroke="#1f8a1f" textLength="10.7" lengthAdjust="spacingAndGlyphs">R3</text>
<text x="514.6" y="169.9" fill="#1f8a1f" stroke="#1f8a1f" textLength="10.4" lengthAdjust="spacingAndGlyphs">R2</text>
<text x="513.4" y="187.1" fill="#1f8a1f" stroke="#1f8a1f" textLength="10.3" lengthAdjust="spacingAndGlyphs">R1</text>
<text x="513.3" y="234.0" fill="#ff3b3b" stroke="#ff3b3b" textLength="10.0" lengthAdjust="spacingAndGlyphs">S1</text>
<text x="513.3" y="251.8" fill="#ff3b3b" stroke="#ff3b3b" textLength="10.2" lengthAdjust="spacingAndGlyphs">S2</text>
<text x="513.3" y="269.9" fill="#ff3b3b" stroke="#ff3b3b" textLength="10.2" lengthAdjust="spacingAndGlyphs">S3</text>
</g>
<line x1="2.40" y1="473.3" x2="2.40" y2="467.26" stroke="#c4c4c4" stroke-width="1"/>
<line x1="7.96" y1="473.3" x2="7.96" y2="466.70" stroke="#c4c4c4" stroke-width="1"/>
<line x1="13.51" y1="473.3" x2="13.51" y2="466.32" stroke="#c4c4c4" stroke-width="1"/>
<line x1="19.06" y1="473.3" x2="19.06" y2="466.05" stroke="#c4c4c4" stroke-width="1"/>
<line x1="24.62" y1="473.3" x2="24.62" y2="465.77" stroke="#c4c4c4" stroke-width="1"/>
<line x1="30.17" y1="473.3" x2="30.17" y2="465.50" stroke="#c4c4c4" stroke-width="1"/>
<line x1="35.73" y1="473.3" x2="35.73" y2="465.50" stroke="#c4c4c4" stroke-width="1"/>
<line x1="41.28" y1="473.3" x2="41.28" y2="465.50" stroke="#c4c4c4" stroke-width="1"/>
<line x1="46.84" y1="473.3" x2="46.84" y2="465.50" stroke="#c4c4c4" stroke-width="1"/>
<line x1="52.39" y1="473.3" x2="52.39" y2="465.50" stroke="#c4c4c4" stroke-width="1"/>
<line x1="57.95" y1="473.3" x2="57.95" y2="465.50" stroke="#c4c4c4" stroke-width="1"/>
<line x1="63.50" y1="473.3" x2="63.50" y2="465.62" stroke="#c4c4c4" stroke-width="1"/>
<line x1="69.06" y1="473.3" x2="69.06" y2="465.82" stroke="#c4c4c4" stroke-width="1"/>
<line x1="74.62" y1="473.3" x2="74.62" y2="466.01" stroke="#c4c4c4" stroke-width="1"/>
<line x1="80.17" y1="473.3" x2="80.17" y2="466.21" stroke="#c4c4c4" stroke-width="1"/>
<line x1="85.72" y1="473.3" x2="85.72" y2="466.51" stroke="#c4c4c4" stroke-width="1"/>
<line x1="91.28" y1="473.3" x2="91.28" y2="466.82" stroke="#c4c4c4" stroke-width="1"/>
<line x1="96.84" y1="473.3" x2="96.84" y2="467.13" stroke="#c4c4c4" stroke-width="1"/>
<line x1="102.39" y1="473.3" x2="102.39" y2="467.38" stroke="#c4c4c4" stroke-width="1"/>
<line x1="107.94" y1="473.3" x2="107.94" y2="467.58" stroke="#c4c4c4" stroke-width="1"/>
<line x1="113.50" y1="473.3" x2="113.50" y2="467.77" stroke="#c4c4c4" stroke-width="1"/>
<line x1="119.06" y1="473.3" x2="119.06" y2="467.97" stroke="#c4c4c4" stroke-width="1"/>
<line x1="124.61" y1="473.3" x2="124.61" y2="468.00" stroke="#c4c4c4" stroke-width="1"/>
<line x1="130.16" y1="473.3" x2="130.16" y2="468.01" stroke="#c4c4c4" stroke-width="1"/>
<line x1="135.72" y1="473.3" x2="135.72" y2="468.43" stroke="#c4c4c4" stroke-width="1"/>
<line x1="141.28" y1="473.3" x2="141.28" y2="468.85" stroke="#c4c4c4" stroke-width="1"/>
<line x1="146.83" y1="473.3" x2="146.83" y2="469.26" stroke="#c4c4c4" stroke-width="1"/>
<line x1="152.38" y1="473.3" x2="152.38" y2="469.45" stroke="#c4c4c4" stroke-width="1"/>
<line x1="157.94" y1="473.3" x2="157.94" y2="469.34" stroke="#c4c4c4" stroke-width="1"/>
<line x1="163.50" y1="473.3" x2="163.50" y2="469.23" stroke="#c4c4c4" stroke-width="1"/>
<line x1="169.05" y1="473.3" x2="169.05" y2="469.12" stroke="#c4c4c4" stroke-width="1"/>
<line x1="174.60" y1="473.3" x2="174.60" y2="469.01" stroke="#c4c4c4" stroke-width="1"/>
<line x1="180.16" y1="473.3" x2="180.16" y2="466.06" stroke="#c4c4c4" stroke-width="1"/>
<line x1="185.72" y1="473.3" x2="185.72" y2="464.20" stroke="#c4c4c4" stroke-width="1"/>
<line x1="191.27" y1="473.3" x2="191.27" y2="464.20" stroke="#c4c4c4" stroke-width="1"/>
<line x1="196.82" y1="473.3" x2="196.82" y2="464.20" stroke="#c4c4c4" stroke-width="1"/>
<line x1="202.38" y1="473.3" x2="202.38" y2="464.20" stroke="#c4c4c4" stroke-width="1"/>
<line x1="207.94" y1="473.3" x2="207.94" y2="464.20" stroke="#c4c4c4" stroke-width="1"/>
<line x1="213.49" y1="473.3" x2="213.49" y2="464.20" stroke="#c4c4c4" stroke-width="1"/>
<line x1="219.04" y1="473.3" x2="219.04" y2="464.20" stroke="#c4c4c4" stroke-width="1"/>
<line x1="224.60" y1="473.3" x2="224.60" y2="464.20" stroke="#c4c4c4" stroke-width="1"/>
<line x1="230.16" y1="473.3" x2="230.16" y2="469.80" stroke="#c4c4c4" stroke-width="1"/>
<line x1="235.71" y1="473.3" x2="235.71" y2="471.52" stroke="#c4c4c4" stroke-width="1"/>
<line x1="241.26" y1="473.3" x2="241.26" y2="472.23" stroke="#c4c4c4" stroke-width="1"/>
<line x1="246.82" y1="473.3" x2="246.82" y2="472.49" stroke="#c4c4c4" stroke-width="1"/>
<line x1="252.38" y1="473.3" x2="252.38" y2="473.34" stroke="#c4c4c4" stroke-width="1"/>
<line x1="257.93" y1="473.3" x2="257.93" y2="473.99" stroke="#c4c4c4" stroke-width="1"/>
<line x1="263.48" y1="473.3" x2="263.48" y2="474.37" stroke="#c4c4c4" stroke-width="1"/>
<line x1="269.04" y1="473.3" x2="269.04" y2="474.74" stroke="#c4c4c4" stroke-width="1"/>
<line x1="274.59" y1="473.3" x2="274.59" y2="474.91" stroke="#c4c4c4" stroke-width="1"/>
<line x1="280.15" y1="473.3" x2="280.15" y2="475.04" stroke="#c4c4c4" stroke-width="1"/>
<line x1="285.70" y1="473.3" x2="285.70" y2="475.17" stroke="#c4c4c4" stroke-width="1"/>
<line x1="291.26" y1="473.3" x2="291.26" y2="475.30" stroke="#c4c4c4" stroke-width="1"/>
<line x1="296.81" y1="473.3" x2="296.81" y2="475.43" stroke="#c4c4c4" stroke-width="1"/>
<line x1="302.37" y1="473.3" x2="302.37" y2="475.58" stroke="#c4c4c4" stroke-width="1"/>
<line x1="307.92" y1="473.3" x2="307.92" y2="475.76" stroke="#c4c4c4" stroke-width="1"/>
<line x1="313.48" y1="473.3" x2="313.48" y2="475.95" stroke="#c4c4c4" stroke-width="1"/>
<line x1="319.03" y1="473.3" x2="319.03" y2="476.69" stroke="#c4c4c4" stroke-width="1"/>
<line x1="324.59" y1="473.3" x2="324.59" y2="477.63" stroke="#c4c4c4" stroke-width="1"/>
<polyline points="0.0,471.0 10.0,470.0 20.0,468.8 30.0,467.0 40.0,465.5 50.0,464.7 60.0,464.2 77.5,464.4 91.0,464.7 100.0,465.3 110.0,466.2 120.0,466.8 140.0,467.3 150.0,468.3 160.0,468.8 180.0,468.0 185.0,467.5 195.0,466.5 205.0,465.3 215.0,464.3 230.0,464.3 235.0,465.0 240.0,466.0 251.7,469.7 263.3,472.2 285.0,475.5 305.0,476.3 322.5,477.2" fill="none" stroke="#ff2020" stroke-width="1.1" stroke-dasharray="2,3"/>
<polyline points="0.0,515.0 7.3,514.3 14.7,517.4 24.8,514.3 34.9,513.2 41.3,519.3 47.7,519.6 56.9,522.0 67.9,523.3 73.4,520.6 89.9,519.8 96.3,518.7 102.8,523.9 108.0,521.6 119.0,524.4 125.0,522.4 132.0,522.4 135.0,523.6 146.0,524.0 152.0,523.2 158.0,519.0 168.0,515.6 175.0,510.4 180.0,513.0 186.0,512.0 191.0,514.0 198.0,521.0 204.0,520.0 213.0,518.4 218.7,521.7 224.1,532.1 230.6,534.2 240.3,532.5 246.8,529.7 256.6,528.2 263.1,529.9 269.6,530.8 279.3,528.2 285.8,529.3 290.6,528.2 302.1,534.2 314.0,529.3 323.8,531.4" fill="none" stroke="#3d9bf0" stroke-width="1.05" stroke-linejoin="round"/>
<polyline points="0.0,556.7 2.8,555.8 7.3,556.7 23.9,566.8 34.9,560.3 36.7,561.3 45.0,575.0 52.3,589.7 58.7,589.7 67.9,585.7 80.7,567.3 90.8,566.8 97.2,567.3 101.8,572.3 113.0,581.0 120.0,581.0 130.0,577.0 135.6,568.6 142.0,569.0 152.0,571.4 158.0,569.0 168.0,560.0 174.0,557.4 180.0,558.0 188.0,560.0 193.0,565.0 202.0,581.0 208.0,586.6 213.3,578.6 218.7,578.6 229.5,591.6 236.0,593.1 244.7,588.8 255.5,576.8 263.1,568.6 273.9,580.7 283.7,576.8 291.3,573.6 301.0,590.3 308.6,595.3 319.4,581.6 323.8,579.4" fill="none" stroke="#48c0b8" stroke-width="1.0" stroke-linejoin="round"/>
<polyline points="0.0,560.3 7.3,557.6 14.7,560.3 25.7,564.9 32.1,563.1 43.1,566.8 49.5,575.0 56.9,586.0 63.3,589.1 68.8,588.2 78.9,578.7 86.2,570.4 95.4,566.8 102.8,569.5 114.0,578.6 124.0,581.0 136.0,574.0 146.0,570.0 158.0,570.0 168.0,564.0 178.0,558.6 186.0,558.6 194.0,563.0 202.0,573.0 208.0,580.0 214.0,582.0 223.0,581.2 231.7,588.8 241.4,592.0 253.3,583.3 264.2,573.0 270.7,573.0 279.3,578.0 290.2,575.8 301.0,583.3 310.8,592.0 318.3,588.8 323.8,584.4" fill="none" stroke="#ff3030" stroke-width="0.95" stroke-dasharray="2,2"/>
<g font-family="'Liberation Sans', Arial, sans-serif" font-size="10.2" fill="#141420" stroke="#141420" stroke-width="0.2">
<text x="6.2" y="479.6" textLength="26.1" lengthAdjust="spacingAndGlyphs">MACD</text>
<text x="5.4" y="537.5" textLength="14.5" lengthAdjust="spacingAndGlyphs">RSI</text>
<text x="4.5" y="582.6" textLength="29.9" lengthAdjust="spacingAndGlyphs">STOCH</text>
</g>
<rect x="0" y="443" width="567.3" height="2" fill="#434343"/>
<rect x="0" y="445" width="567.3" height="0.5" fill="#9a9a9a"/>
<rect x="0" y="498" width="567.3" height="2" fill="#434343"/>
<rect x="0" y="500" width="567.3" height="0.5" fill="#9a9a9a"/>
<rect x="0" y="553.1" width="567.3" height="2" fill="#434343"/>
<rect x="0" y="555.1" width="567.3" height="0.5" fill="#9a9a9a"/>
<rect x="0" y="0" width="567" height="2" fill="#a6a6a6"/>
<rect x="0" y="606.6" width="567.5" height="1.4" fill="#3c3c3c"/>
<rect x="566.2" y="0" width="1.5" height="608" fill="#9a9a9a"/>
<polygon points="333.8,1.2 340.4,1.2 337.1,4.9" fill="#aabfe2"/>
<rect x="334" y="0.6" width="6.2" height="1.1" fill="#6d85b3"/>
<g font-family="'Liberation Sans', Arial, sans-serif" font-size="8.5" fill="#151515" stroke="#151515" stroke-width="0.06">
<text x="570.8" y="8.65" textLength="23.05" lengthAdjust="spacingAndGlyphs">5737.10</text>
<text x="570.8" y="31.58" textLength="23.05" lengthAdjust="spacingAndGlyphs">5661.20</text>
<text x="570.8" y="54.51" textLength="23.05" lengthAdjust="spacingAndGlyphs">5585.30</text>
<text x="570.8" y="77.44" textLength="23.05" lengthAdjust="spacingAndGlyphs">5507.10</text>
<text x="570.8" y="100.37" textLength="23.05" lengthAdjust="spacingAndGlyphs">5431.20</text>
<text x="570.8" y="123.30" textLength="23.05" lengthAdjust="spacingAndGlyphs">5355.30</text>
<text x="570.8" y="146.23" textLength="23.05" lengthAdjust="spacingAndGlyphs">5277.10</text>
<text x="570.8" y="169.16" textLength="23.05" lengthAdjust="spacingAndGlyphs">5201.20</text>
<text x="570.8" y="192.09" textLength="23.05" lengthAdjust="spacingAndGlyphs">5123.00</text>
<text x="570.8" y="215.02" textLength="23.05" lengthAdjust="spacingAndGlyphs">5047.10</text>
<text x="570.8" y="237.95" textLength="23.05" lengthAdjust="spacingAndGlyphs">4971.20</text>
<text x="570.8" y="260.88" textLength="23.05" lengthAdjust="spacingAndGlyphs">4893.00</text>
<text x="570.8" y="283.81" textLength="23.05" lengthAdjust="spacingAndGlyphs">4817.10</text>
<text x="570.8" y="306.74" textLength="23.05" lengthAdjust="spacingAndGlyphs">4741.20</text>
<text x="570.8" y="329.67" textLength="23.05" lengthAdjust="spacingAndGlyphs">4663.00</text>
<text x="570.8" y="352.60" textLength="23.05" lengthAdjust="spacingAndGlyphs">4587.10</text>
<text x="570.8" y="375.53" textLength="23.05" lengthAdjust="spacingAndGlyphs">4511.20</text>
<text x="570.8" y="398.46" textLength="23.05" lengthAdjust="spacingAndGlyphs">4433.00</text>
<text x="570.8" y="421.39" textLength="23.05" lengthAdjust="spacingAndGlyphs">4357.10</text>
<text x="570.8" y="444.32" textLength="23.05" lengthAdjust="spacingAndGlyphs">4281.20</text>
<text x="570.0" y="452.45" textLength="23.05" lengthAdjust="spacingAndGlyphs">166.658</text>
<text x="569.7" y="476.15" textLength="12.40" lengthAdjust="spacingAndGlyphs">0.00</text>
<text x="569.6" y="496.25" textLength="24.95" lengthAdjust="spacingAndGlyphs">-149.908</text>
<text x="569.4" y="507.35" textLength="10.65" lengthAdjust="spacingAndGlyphs">100</text>
<text x="569.2" y="519.65" textLength="7.10" lengthAdjust="spacingAndGlyphs">70</text>
<text x="569.2" y="540.05" textLength="7.10" lengthAdjust="spacingAndGlyphs">30</text>
<text x="569.7" y="551.35" textLength="3.55" lengthAdjust="spacingAndGlyphs">0</text>
<text x="569.4" y="562.35" textLength="10.65" lengthAdjust="spacingAndGlyphs">100</text>
<text x="569.2" y="568.85" textLength="7.10" lengthAdjust="spacingAndGlyphs">80</text>
<text x="569.1" y="599.75" textLength="7.10" lengthAdjust="spacingAndGlyphs">20</text>
<text x="569.6" y="605.35" textLength="3.55" lengthAdjust="spacingAndGlyphs">0</text>
</g>
<polygon points="567.2,4.50 569,5.60 567.2,6.70" fill="#222"/>
<polygon points="567.2,27.43 569,28.53 567.2,29.63" fill="#222"/>
<polygon points="567.2,50.36 569,51.46 567.2,52.56" fill="#222"/>
<polygon points="567.2,73.29 569,74.39 567.2,75.49" fill="#222"/>
<polygon points="567.2,96.22 569,97.32 567.2,98.42" fill="#222"/>
<polygon points="567.2,119.15 569,120.25 567.2,121.35" fill="#222"/>
<polygon points="567.2,142.08 569,143.18 567.2,144.28" fill="#222"/>
<polygon points="567.2,165.01 569,166.11 567.2,167.21" fill="#222"/>
<polygon points="567.2,187.94 569,189.04 567.2,190.14" fill="#222"/>
<polygon points="567.2,210.87 569,211.97 567.2,213.07" fill="#222"/>
<polygon points="567.2,233.80 569,234.90 567.2,236.00" fill="#222"/>
<polygon points="567.2,256.73 569,257.83 567.2,258.93" fill="#222"/>
<polygon points="567.2,279.66 569,280.76 567.2,281.86" fill="#222"/>
<polygon points="567.2,302.59 569,303.69 567.2,304.79" fill="#222"/>
<polygon points="567.2,325.52 569,326.62 567.2,327.72" fill="#222"/>
<polygon points="567.2,348.45 569,349.55 567.2,350.65" fill="#222"/>
<polygon points="567.2,371.38 569,372.48 567.2,373.58" fill="#222"/>
<polygon points="567.2,394.31 569,395.41 567.2,396.51" fill="#222"/>
<polygon points="567.2,417.24 569,418.34 567.2,419.44" fill="#222"/>
<polygon points="567.2,440.17 569,441.27 567.2,442.37" fill="#222"/>
<line x1="567.2" y1="473.3" x2="568.4" y2="473.3" stroke="#222" stroke-width="1"/>
<rect x="567.9" y="136.30" width="28.9" height="7.6" fill="#118811"/>
<rect x="567.9" y="154.50" width="28.9" height="7.6" fill="#118811"/>
<rect x="567.9" y="172.70" width="28.9" height="7.6" fill="#118811"/>
<rect x="567.9" y="197.10" width="28.9" height="7.6" fill="#000000"/>
<rect x="567.9" y="220.70" width="28.9" height="7.6" fill="#ff1010"/>
<rect x="567.9" y="238.50" width="28.9" height="7.6" fill="#ff1010"/>
<rect x="567.9" y="256.60" width="28.9" height="7.6" fill="#ff1010"/>
<g font-family="'Liberation Sans', Arial, sans-serif" font-size="8.5" fill="#ffffff">
<text x="570.9" y="143.15" textLength="23.05" lengthAdjust="spacingAndGlyphs">5286.80</text>
<text x="570.9" y="161.35" textLength="23.05" lengthAdjust="spacingAndGlyphs">5225.95</text>
<text x="570.9" y="179.55" textLength="23.05" lengthAdjust="spacingAndGlyphs">5165.11</text>
<text x="570.9" y="203.95" textLength="23.05" lengthAdjust="spacingAndGlyphs">5083.78</text>
<text x="570.9" y="227.55" textLength="23.05" lengthAdjust="spacingAndGlyphs">5002.85</text>
<text x="570.9" y="245.35" textLength="23.05" lengthAdjust="spacingAndGlyphs">4942.01</text>
<text x="570.9" y="263.45" textLength="23.05" lengthAdjust="spacingAndGlyphs">4881.16</text>
</g>
<g font-family="'Liberation Sans', Arial, sans-serif" font-size="8.0" fill="#151515" stroke="#151515" stroke-width="0.06">
<text x="1.80" y="616.4" textLength="37.2" lengthAdjust="spacingAndGlyphs">22 Feb 23:01</text>
<text x="46.24" y="616.4" textLength="37.5" lengthAdjust="spacingAndGlyphs">24 Feb 04:00</text>
<text x="90.68" y="616.4" textLength="37.5" lengthAdjust="spacingAndGlyphs">25 Feb 12:00</text>
<text x="135.12" y="616.4" textLength="37.4" lengthAdjust="spacingAndGlyphs">26 Feb 20:00</text>
<text x="179.56" y="616.4" textLength="34.0" lengthAdjust="spacingAndGlyphs">2 Mar 00:00</text>
<text x="224.00" y="616.4" textLength="35.0" lengthAdjust="spacingAndGlyphs">3 Mar 08:00</text>
<text x="268.44" y="616.4" textLength="35.0" lengthAdjust="spacingAndGlyphs">4 Mar 16:00</text>
<text x="312.88" y="616.4" textLength="34.2" lengthAdjust="spacingAndGlyphs">6 Mar 00:00</text>
</g>
<line x1="2.40" y1="607" x2="2.40" y2="610" stroke="#222" stroke-width="1"/>
<line x1="46.84" y1="607" x2="46.84" y2="610" stroke="#222" stroke-width="1"/>
<line x1="91.28" y1="607" x2="91.28" y2="610" stroke="#222" stroke-width="1"/>
<line x1="135.72" y1="607" x2="135.72" y2="610" stroke="#222" stroke-width="1"/>
<line x1="180.16" y1="607" x2="180.16" y2="610" stroke="#222" stroke-width="1"/>
<line x1="224.60" y1="607" x2="224.60" y2="610" stroke="#222" stroke-width="1"/>
<line x1="269.04" y1="607" x2="269.04" y2="610" stroke="#222" stroke-width="1"/>
<line x1="313.48" y1="607" x2="313.48" y2="610" stroke="#222" stroke-width="1"/>
</svg></body></html>
